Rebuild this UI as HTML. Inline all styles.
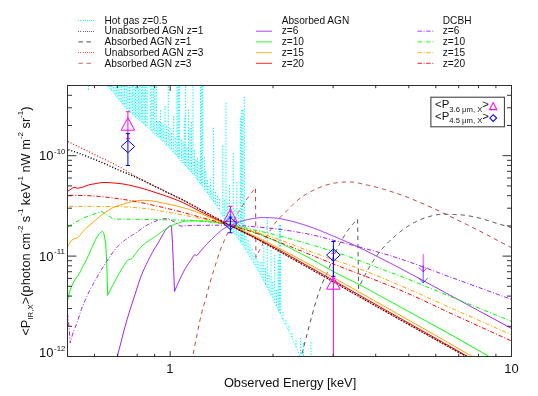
<!DOCTYPE html>
<html><head><meta charset="utf-8"><title>plot</title>
<style>
html,body{margin:0;padding:0;background:#fff;}
body{width:538px;height:396px;position:relative;overflow:hidden;font-family:"Liberation Sans",sans-serif;color:#111;}
svg text{font-family:"Liberation Sans",sans-serif;}
</style></head><body>
<svg width="538" height="396" viewBox="0 0 538 396" style="position:absolute;left:0;top:0;will-change:transform">
<defs><clipPath id="c"><rect x="67.5" y="85.5" width="444.0" height="271.0"/></clipPath></defs>
<g clip-path="url(#c)" fill="none" stroke-linejoin="round">
<path d="M100.00,76.8 L101.00,78.0 L102.00,79.1 L103.00,80.3 L104.00,81.5 L105.00,82.6 L106.00,83.8 L107.00,85.0 L108.00,86.2 L109.00,87.4 L110.00,88.6 L111.00,89.8 L112.00,91.1 L113.00,92.3 L114.00,93.6 L115.00,94.8 L116.00,96.1 L117.00,97.3 L118.00,98.6 L119.00,99.8 L120.00,101.0 L121.00,102.2 L122.00,103.4 L123.00,104.6 L124.00,105.7 L125.00,106.8 L126.00,107.9 L127.00,109.0 L128.00,110.0 L129.00,111.0 L130.00,112.0 L131.00,112.9 L132.00,113.8 L133.00,114.7 L134.00,115.6 L135.00,116.4 L136.00,117.3 L137.00,118.1 L138.00,119.0 L139.00,119.8 L140.00,120.7 L141.00,121.5 L142.00,122.4 L143.00,123.2 L144.00,124.1 L145.00,125.0 L146.00,125.9 L147.00,126.8 L148.00,127.8 L149.00,128.7 L150.00,129.6 L151.00,130.5 L152.00,131.5 L153.00,132.4 L154.00,133.4 L155.00,134.3 L156.00,135.3 L157.00,136.2 L158.00,137.2 L159.00,138.1 L160.00,139.1 L161.00,140.0 L162.00,140.9 L163.00,141.9 L164.00,142.8 L165.00,143.8 L166.00,144.7 L167.00,145.6 L168.00,146.6 L169.00,147.6 L170.00,148.6 L171.00,149.6 L172.00,150.7 L173.00,151.7 L174.00,152.8 L175.00,153.9 L176.00,155.0 L177.00,156.1 L178.00,157.2 L179.00,158.4 L180.00,159.5 L181.00,160.6 L182.00,161.7 L183.00,162.9 L184.00,164.0 L185.00,165.1 L186.00,166.2 L187.00,167.3 L188.00,168.5 L189.00,169.6 L190.00,170.7 L191.00,171.9 L192.00,173.0 L193.00,174.2 L194.00,175.4 L195.00,176.6 L196.00,177.9 L197.00,179.1 L198.00,180.4 L199.00,181.7 L200.00,183.1 L201.00,184.4 L202.00,185.8 L203.00,187.1 L204.00,188.5 L205.00,189.9 L206.00,191.3 L207.00,192.6 L208.00,194.0 L209.00,195.4 L210.00,196.7 L211.00,198.1 L212.00,199.4 L213.00,200.8 L214.00,202.2 L215.00,203.6 L216.00,205.0 L217.00,206.4 L218.00,208.0 L219.00,209.5 L220.00,211.1 L221.00,212.8 L222.00,214.6 L223.00,216.4 L224.00,218.2 L225.00,220.0 L226.00,221.8 L227.00,223.6 L228.00,225.4 L229.00,227.0 L230.00,228.4 L231.00,229.7 L232.00,230.9 L233.00,232.1 L234.00,233.3 L235.00,234.6 L236.00,235.9 L237.00,237.3 L238.00,238.7 L239.00,240.1 L240.00,241.5 L241.00,242.9 L242.00,244.4 L243.00,245.8 L244.00,247.3 L245.00,248.8 L246.00,250.4 L247.00,251.9 L248.00,253.5 L249.00,255.1 L250.00,256.7 L251.00,258.4 L252.00,260.1 L253.00,261.8 L254.00,263.5 L255.00,265.2 L256.00,267.0 L257.00,268.7 L258.00,270.4 L259.00,272.2 L260.00,273.9 L261.00,275.7 L262.00,277.5 L263.00,279.3 L264.00,281.2 L265.00,283.1 L266.00,285.1 L267.00,287.1 L268.00,289.1 L269.00,291.2 L270.00,293.3 L271.00,295.4 L272.00,297.5 L273.00,299.6 L274.00,301.6 L275.00,303.6 L276.00,305.6 L277.00,307.6 L278.00,309.6 L279.00,311.6 L280.00,313.6 L281.00,315.6 L282.00,317.6 L283.00,319.6 L284.00,321.6 L285.00,323.5 L286.00,325.4 L287.00,327.4 L288.00,329.4 L289.00,331.4 L290.00,333.4 L291.00,335.5 L292.00,337.7 L293.00,339.9 L294.00,342.2 L295.00,344.5 L296.00,346.9 L297.00,349.3 L298.00,351.7 L299.00,354.2 L300.00,356.8 L301.00,359.4 L302.00,362.0 L303.00,364.7 L304.00,367.4 L305.00,370.1 L306.00,372.9 L307.00,375.8 L308.00,378.6 L309.00,381.6 L310.00,384.5 L311.00,387.5 L312.00,390.6 L313.00,393.7" stroke="#00ffff" stroke-width="0.9" stroke-dasharray="1.2,1.7"/>
<path d="M108.60,85.6V86.9 M110.20,85.6V88.9 M111.80,85.6V90.8 M113.40,87.0V92.8 M115.00,87.0V94.8 M116.60,87.0V96.8 M118.20,86.3V98.8 M119.80,86.3V100.8 M121.40,86.3V102.7 M123.00,85.6V104.6 M124.60,85.6V106.4 M126.20,85.6V108.1 M127.80,87.0V109.8 M129.40,87.0V111.4 M131.00,87.0V112.9 M132.60,86.3V114.3 M134.05,85.6V115.6 M135.50,87.0V116.9 M136.95,85.6V118.1 M138.40,87.0V119.3 M139.85,85.6V120.5 M141.30,87.0V121.8 M142.75,86.3V123.0 M144.20,87.0V124.3 M145.65,86.3V125.6 M147.10,87.0V126.9 M150.20,86.3V129.8 M151.75,85.6V131.2 M153.30,85.6V132.7 M154.85,87.0V134.2 M156.40,86.3V135.6 M158.00,122.0V137.2 M159.30,121.0V138.4 M160.50,110.0V139.5 M161.80,123.0V140.8 M163.20,125.0V142.1 M165.00,106.0V143.8 M166.50,126.0V145.2 M168.30,86.3V146.9 M170.00,128.0V148.6 M171.50,133.0V150.1 M173.60,116.0V152.4 M175.30,138.0V154.2 M177.00,87.0V156.1 M178.20,86.3V157.5 M179.40,86.3V158.8 M181.50,140.0V161.2 M183.00,142.0V162.9 M184.30,118.0V164.3 M185.60,86.3V165.8 M187.00,148.0V167.3 M188.50,109.5V169.0 M190.00,128.0V170.7 M191.50,122.0V172.4 M193.00,86.3V174.2 M194.50,150.0V176.0 M196.00,160.0V177.9 M197.50,158.0V179.8 M199.00,162.0V181.7 M200.50,87.0V183.7 M201.60,86.3V185.2 M202.70,85.6V186.7 M204.50,157.0V189.2 M206.00,171.0V191.3 M207.50,180.0V193.3 M209.00,186.0V195.4 M210.60,179.0V197.5 M212.00,190.0V199.4 M213.60,127.7V201.6 M215.50,192.0V204.3 M217.50,196.0V207.2 M219.50,199.0V210.3 M222.70,145.6V215.8 M224.30,200.0V218.7 M226.00,102.7V221.8 M227.70,203.0V224.9 M229.50,185.0V227.7 M231.30,206.0V230.1 M233.30,153.0V232.5 M235.00,210.0V234.6 M236.80,182.0V237.0 M238.60,215.0V239.5 M240.40,118.0V242.1 M241.70,110.0V243.9 M243.00,110.0V245.8 M244.30,96.7V247.8 M246.00,236.0V250.4 M248.00,240.0V253.5 M250.00,244.0V256.7 M252.00,249.0V260.1 M254.00,253.0V263.5 M256.00,258.0V267.0 M258.00,261.0V270.4 M260.00,262.0V273.9 M262.00,262.0V277.5 M263.80,236.0V280.8 M265.50,268.0V284.1 M267.30,217.0V287.7 M269.00,275.0V291.2 M271.00,250.0V295.4 M272.80,282.0V299.2 M274.70,255.0V303.0 M276.50,290.0V306.6 M278.20,260.0V310.0 M279.30,225.0V312.2 M280.40,225.0V314.4 M283.00,312.0V319.6 M286.00,320.0V325.4 M289.00,326.0V331.4 M292.00,333.0V337.7 M296.00,340.0V346.9 M300.50,338.0V358.1 M303.50,343.0V366.0 M311.00,342.0V387.5 M88.5,85.6V90.2" stroke="#00ffff" stroke-width="1.05" stroke-dasharray="1.4,1.5"/>
<path d="M190.0,370.0 L191.0,364.9 L192.0,359.9 L193.0,354.9 L194.0,349.9 L195.0,344.7 L196.0,339.5 L197.1,334.4 L198.1,329.3 L199.1,324.4 L200.1,319.7 L201.1,315.3 L202.1,311.2 L203.1,307.5 L204.1,304.4 L205.1,301.4 L206.1,297.9 L207.1,293.8 L208.1,289.6 L209.1,285.6 L210.2,282.0 L211.2,278.6 L212.2,275.4 L213.2,272.2 L214.2,269.0 L215.2,265.8 L216.2,262.5 L217.2,259.3 L218.2,256.2 L219.2,253.2 L220.2,250.4 L221.2,247.8 L222.2,245.3 L223.3,242.9 L224.3,240.6 L225.3,238.3 L226.3,236.1 L227.3,234.0 L228.3,231.9 L229.3,229.8 L230.3,227.8 L231.3,225.9 L232.3,223.9 L233.3,221.8 L234.3,219.8 L235.3,217.8 L236.4,215.9 L237.4,214.0 L238.4,212.2 L239.4,210.5 L240.4,208.9 L241.4,207.3 L242.4,205.8 L243.4,204.3 L244.4,202.8 L245.4,201.3 L246.4,199.9 L247.4,198.4 L248.4,197.0 L249.5,195.6 L250.5,194.3 L251.5,192.9 L252.5,191.6 L253.5,190.3 L254.5,189.0 L255.5,187.7 L255.9,257.5 L256.9,255.3 L257.9,253.2 L258.9,251.2 L259.9,249.4 L260.9,247.6 L261.9,245.8 L262.9,243.8 L263.9,241.9 L264.9,239.9 L265.9,238.0 L266.9,236.1 L267.9,234.3 L268.9,232.7 L269.9,231.0 L270.9,229.4 L271.9,227.8 L272.9,226.3 L273.9,224.8 L274.9,223.4 L275.9,222.1 L276.9,220.9 L277.9,219.8 L278.9,218.7 L279.9,217.6 L280.9,216.6 L281.9,215.6 L282.9,214.6 L283.9,213.7 L284.9,212.7 L285.9,211.8 L286.9,210.8 L287.9,209.8 L288.9,208.8 L289.9,207.7 L290.9,206.7 L291.9,205.6 L292.9,204.6 L293.9,203.6 L294.9,202.6 L295.9,201.7 L296.9,200.8 L297.9,199.9 L298.9,199.2 L299.9,198.4 L300.9,197.7 L301.9,196.9 L302.9,196.2 L303.9,195.6 L304.9,194.9 L305.9,194.3 L306.9,193.7 L307.9,193.1 L308.9,192.5 L309.9,192.0 L310.9,191.5 L311.9,191.0 L312.9,190.5 L313.9,190.0 L314.9,189.6 L315.9,189.1 L316.9,188.7 L317.9,188.3 L318.9,187.8 L319.9,187.4 L320.9,187.0 L321.9,186.6 L322.9,186.2 L323.9,185.8 L324.9,185.5 L325.9,185.1 L326.9,184.8 L327.9,184.6 L328.9,184.3 L329.9,184.0 L330.9,183.8 L331.9,183.5 L332.9,183.3 L333.9,183.2 L334.9,183.0 L335.9,182.9 L336.9,182.8 L337.9,182.6 L338.9,182.5 L339.9,182.4 L340.9,182.3 L341.9,182.2 L342.9,182.1 L343.9,182.0 L344.9,182.0 L345.9,181.9 L346.9,181.9 L347.9,181.9 L348.9,181.9 L349.9,182.0 L350.9,182.0 L351.9,182.1 L352.9,182.2 L353.9,182.3 L354.9,182.4 L355.9,182.6 L356.9,182.8 L357.9,182.9 L358.9,183.1 L359.9,183.3 L360.9,183.6 L361.9,183.8 L362.9,184.0 L363.9,184.2 L364.9,184.5 L365.9,184.7 L366.9,185.0 L367.9,185.2 L368.9,185.4 L369.9,185.7 L370.9,185.9 L371.9,186.2 L372.9,186.4 L373.9,186.6 L374.9,186.9 L375.9,187.1 L376.9,187.3 L377.9,187.6 L378.9,187.9 L379.9,188.1 L380.9,188.4 L381.9,188.7 L382.9,189.0 L383.9,189.3 L384.9,189.6 L386.0,189.9 L387.0,190.2 L388.0,190.5 L389.0,190.9 L390.0,191.2 L391.0,191.5 L392.0,191.8 L393.0,192.2 L394.0,192.5 L395.0,192.8 L396.0,193.2 L397.0,193.5 L398.0,193.8 L399.0,194.2 L400.0,194.5 L401.0,194.9 L402.0,195.3 L403.0,195.6 L404.0,196.0 L405.0,196.4 L406.0,196.7 L407.0,197.1 L408.0,197.5 L409.0,197.9 L410.0,198.3 L411.0,198.7 L412.0,199.1 L413.0,199.5 L414.0,199.9 L415.0,200.3 L416.0,200.8 L417.0,201.2 L418.0,201.6 L419.0,202.0 L420.0,202.4 L421.0,202.9 L422.0,203.3 L423.0,203.7 L424.0,204.2 L425.0,204.6 L426.0,205.0 L427.0,205.5 L428.0,205.9 L429.0,206.4 L430.0,206.8 L431.0,207.3 L432.0,207.7 L433.0,208.2 L434.0,208.6 L435.0,209.1 L436.0,209.6 L437.0,210.0 L438.0,210.5 L439.0,211.0 L440.0,211.5 L441.0,212.0 L442.0,212.4 L443.0,212.9 L444.0,213.4 L445.0,213.9 L446.0,214.4 L447.0,214.8 L448.0,215.3 L449.0,215.8 L450.0,216.3 L451.0,216.8 L452.0,217.3 L453.0,217.7 L454.0,218.2 L455.0,218.7 L456.0,219.2 L457.0,219.7 L458.0,220.2 L459.0,220.7 L460.0,221.2 L461.0,221.6 L462.0,222.1 L463.0,222.6 L464.0,223.1 L465.0,223.6 L466.0,224.1 L467.0,224.6 L468.0,225.1 L469.0,225.6 L470.0,226.1 L471.0,226.6 L472.0,227.1 L473.0,227.6 L474.0,228.2 L475.0,228.7 L476.0,229.2 L477.0,229.7 L478.0,230.2 L479.0,230.7 L480.0,231.2 L481.0,231.7 L482.0,232.2 L483.0,232.8 L484.0,233.3 L485.0,233.8 L486.0,234.3 L487.0,234.8 L488.0,235.4 L489.0,235.9 L490.0,236.4 L491.0,237.0 L492.0,237.5 L493.0,238.0 L494.0,238.5 L495.0,239.1 L496.0,239.6 L497.0,240.1 L498.0,240.7 L499.0,241.2 L500.0,241.7 L501.0,242.2 L502.0,242.8 L503.0,243.3 L504.0,243.8 L505.0,244.3 L506.0,244.9 L507.0,245.4 L508.0,245.9 L509.0,246.4 L510.0,246.9 L511.0,247.4 L512.0,248.0 L513.0,248.5 L514.0,249.0 L515.0,249.5" stroke="#c84040" stroke-width="1.0" stroke-dasharray="4.3,3.9"/>
<path d="M298.0,370.0 L299.0,365.8 L300.0,361.7 L301.0,357.6 L302.0,353.6 L303.1,349.6 L304.1,345.6 L305.1,341.7 L306.1,337.8 L307.1,333.9 L308.1,330.1 L309.1,326.3 L310.1,322.5 L311.1,318.8 L312.1,315.0 L313.2,311.2 L314.2,307.5 L315.2,304.0 L316.2,300.7 L317.2,297.5 L318.2,294.5 L319.2,291.6 L320.2,288.8 L321.2,286.1 L322.2,283.5 L323.3,281.0 L324.3,278.8 L325.3,276.7 L326.3,274.6 L327.3,272.4 L328.3,270.2 L329.3,267.7 L330.3,265.0 L331.3,262.3 L332.3,259.6 L333.4,257.2 L334.4,254.8 L335.4,252.6 L336.4,250.5 L337.4,248.4 L338.4,246.4 L339.4,244.4 L340.4,242.6 L341.4,240.7 L342.4,238.9 L343.5,237.1 L344.5,235.4 L345.5,233.8 L346.5,232.3 L347.5,230.8 L348.5,229.4 L349.5,228.1 L350.5,226.8 L351.5,225.6 L352.5,224.4 L353.6,223.3 L354.6,222.2 L355.6,221.1 L356.6,220.1 L357.6,219.2 L358.6,288.5 L359.6,286.2 L360.6,284.0 L361.6,281.8 L362.6,279.7 L363.6,277.7 L364.6,275.7 L365.6,273.9 L366.6,272.0 L367.6,270.2 L368.6,268.5 L369.6,266.7 L370.6,265.1 L371.6,263.5 L372.6,261.9 L373.6,260.4 L374.6,258.9 L375.6,257.4 L376.6,256.0 L377.6,254.6 L378.7,253.2 L379.7,251.9 L380.7,250.7 L381.7,249.5 L382.7,248.3 L383.7,247.2 L384.7,246.1 L385.7,245.0 L386.7,244.0 L387.7,242.9 L388.7,241.9 L389.7,241.0 L390.7,240.0 L391.7,239.1 L392.7,238.2 L393.7,237.3 L394.7,236.4 L395.7,235.5 L396.7,234.7 L397.7,233.8 L398.7,233.0 L399.7,232.2 L400.7,231.4 L401.7,230.6 L402.7,229.9 L403.7,229.1 L404.7,228.4 L405.7,227.7 L406.7,227.0 L407.7,226.4 L408.7,225.7 L409.7,225.1 L410.7,224.5 L411.7,223.9 L412.7,223.4 L413.7,222.8 L414.7,222.3 L415.7,221.8 L416.7,221.3 L417.8,220.8 L418.8,220.4 L419.8,219.9 L420.8,219.5 L421.8,219.0 L422.8,218.6 L423.8,218.2 L424.8,217.8 L425.8,217.5 L426.8,217.1 L427.8,216.9 L428.8,216.6 L429.8,216.4 L430.8,216.1 L431.8,215.9 L432.8,215.7 L433.8,215.4 L434.8,215.2 L435.8,215.0 L436.8,214.8 L437.8,214.7 L438.8,214.5 L439.8,214.4 L440.8,214.3 L441.8,214.2 L442.8,214.2 L443.8,214.2 L444.8,214.2 L445.8,214.2 L446.8,214.2 L447.8,214.3 L448.8,214.3 L449.8,214.3 L450.8,214.3 L451.8,214.4 L452.8,214.4 L453.8,214.5 L454.8,214.5 L455.8,214.6 L456.9,214.6 L457.9,214.7 L458.9,214.7 L459.9,214.8 L460.9,214.9 L461.9,214.9 L462.9,215.0 L463.9,215.2 L464.9,215.3 L465.9,215.4 L466.9,215.6 L467.9,215.7 L468.9,215.9 L469.9,216.1 L470.9,216.2 L471.9,216.4 L472.9,216.6 L473.9,216.8 L474.9,217.0 L475.9,217.2 L476.9,217.4 L477.9,217.7 L478.9,217.9 L479.9,218.2 L480.9,218.5 L481.9,218.7 L482.9,219.0 L483.9,219.3 L484.9,219.6 L485.9,219.9 L486.9,220.2 L487.9,220.5 L488.9,220.8 L489.9,221.1 L490.9,221.5 L491.9,221.8 L492.9,222.1 L493.9,222.5 L494.9,222.8 L496.0,223.1 L497.0,223.4 L498.0,223.7 L499.0,224.0 L500.0,224.3 L501.0,224.6 L502.0,224.9 L503.0,225.2 L504.0,225.5 L505.0,225.8 L506.0,226.0 L507.0,226.3 L508.0,226.6 L509.0,226.9 L510.0,227.2 L511.0,227.5 L512.0,227.8 L513.0,228.1 L514.0,228.4 L515.0,228.7" stroke="#333" stroke-width="0.85" stroke-dasharray="4.3,3.9"/>
<path d="M113.0,375.0 L114.0,370.7 L115.0,366.4 L116.0,362.2 L117.0,358.0 L118.0,353.9 L119.0,349.8 L120.1,345.8 L121.1,341.8 L122.1,337.8 L123.1,333.9 L124.1,330.1 L125.1,326.4 L126.1,322.9 L127.1,319.4 L128.1,316.1 L129.1,312.8 L130.1,309.6 L131.1,306.4 L132.2,303.2 L133.2,300.1 L134.2,297.0 L135.2,293.9 L136.2,290.8 L137.2,287.7 L138.2,284.6 L139.2,281.5 L140.2,278.6 L141.2,275.9 L142.2,273.4 L143.2,271.0 L144.3,268.7 L145.3,266.5 L146.3,264.4 L147.3,262.3 L148.3,260.3 L149.3,258.3 L150.3,256.4 L151.3,254.5 L152.3,252.7 L153.3,250.9 L154.3,249.2 L155.3,247.5 L156.4,245.9 L157.4,244.2 L158.4,242.5 L159.4,240.7 L160.4,238.9 L161.4,237.1 L162.4,235.3 L163.4,233.6 L164.4,231.9 L165.4,230.4 L166.4,229.0 L167.4,227.8 L168.5,226.9 L169.5,226.1 L170.5,225.7 L171.5,226.3 L172.5,243.4 L173.5,266.5 L174.5,291.5 L174.5,291.5 L175.5,289.1 L176.5,286.7 L177.5,284.4 L178.5,282.2 L179.5,280.0 L180.5,277.9 L181.5,275.8 L182.5,273.8 L183.5,271.9 L184.5,270.0 L185.5,268.3 L186.5,266.6 L187.5,265.0 L188.5,263.5 L189.5,262.1 L190.5,260.7 L191.5,259.2 L192.5,257.5 L193.5,255.9 L194.5,254.8 L195.5,254.9 L196.5,255.5 L197.5,255.0 L198.5,253.8 L199.5,252.4 L200.5,251.1 L201.5,250.1 L202.5,248.9 L203.5,247.8 L204.5,246.7 L205.5,245.6 L206.5,244.5 L207.5,243.4 L208.5,242.4 L209.6,241.3 L210.6,240.3 L211.6,239.4 L212.6,238.4 L213.6,237.4 L214.6,236.4 L215.6,235.5 L216.6,234.5 L217.6,233.6 L218.6,232.6 L219.6,231.8 L220.6,230.9 L221.6,230.2 L222.6,229.4 L223.6,228.8 L224.6,228.2 L225.6,227.6 L226.6,227.1 L227.6,226.7 L228.6,226.3 L229.6,225.9 L230.6,225.5 L231.6,225.0 L232.6,224.6 L233.6,224.2 L234.6,223.8 L235.6,223.4 L236.6,223.0 L237.6,222.7 L238.6,222.3 L239.6,221.9 L240.6,221.6 L241.6,221.2 L242.6,220.9 L243.6,220.6 L244.6,220.3 L245.6,220.1 L246.6,219.8 L247.6,219.6 L248.6,219.4 L249.6,219.2 L250.6,219.0 L251.6,218.8 L252.6,218.6 L253.6,218.5 L254.6,218.4 L255.6,218.2 L256.6,218.1 L257.6,217.9 L258.6,217.8 L259.6,217.7 L260.6,217.6 L261.6,217.6 L262.6,217.6 L263.6,217.6 L264.6,217.6 L265.6,217.6 L266.6,217.7 L267.6,217.7 L268.6,217.7 L269.6,217.8 L270.6,217.8 L271.6,217.8 L272.6,217.9 L273.6,217.9 L274.6,218.0 L275.6,218.0 L276.6,218.1 L277.6,218.2 L278.7,218.4 L279.7,218.6 L280.7,218.7 L281.7,218.9 L282.7,219.1 L283.7,219.4 L284.7,219.6 L285.7,219.8 L286.7,220.1 L287.7,220.3 L288.7,220.5 L289.7,220.7 L290.7,221.0 L291.7,221.2 L292.7,221.5 L293.7,221.7 L294.7,222.0 L295.7,222.3 L296.7,222.6 L297.7,222.9 L298.7,223.2 L299.7,223.5 L300.7,223.8 L301.7,224.1 L302.7,224.4 L303.7,224.7 L304.7,225.0 L305.7,225.4 L306.7,225.7 L307.7,226.0 L308.7,226.4 L309.7,226.7 L310.7,227.0 L311.7,227.4 L312.7,227.7 L313.7,228.1 L314.7,228.5 L315.7,228.9 L316.7,229.2 L317.7,229.6 L318.7,230.0 L319.7,230.4 L320.7,230.8 L321.7,231.2 L322.7,231.7 L323.7,232.1 L324.7,232.5 L325.7,232.9 L326.7,233.3 L327.7,233.8 L328.7,234.2 L329.7,234.6 L330.7,235.0 L331.7,235.4 L332.7,235.9 L333.7,236.3 L334.7,236.7 L335.7,237.1 L336.7,237.5 L337.7,237.9 L338.7,238.4 L339.7,238.8 L340.7,239.2 L341.7,239.6 L342.7,240.0 L343.7,240.5 L344.7,240.9 L345.7,241.3 L346.7,241.8 L347.8,242.2 L348.8,242.6 L349.8,243.1 L350.8,243.5 L351.8,244.0 L352.8,244.5 L353.8,244.9 L354.8,245.4 L355.8,245.9 L356.8,246.3 L357.8,246.8 L358.8,247.3 L359.8,247.8 L360.8,248.3 L361.8,248.8 L362.8,249.2 L363.8,249.7 L364.8,250.2 L365.8,250.7 L366.8,251.2 L367.8,251.7 L368.8,252.2 L369.8,252.7 L370.8,253.2 L371.8,253.7 L372.8,254.2 L373.8,254.7 L374.8,255.3 L375.8,255.8 L376.8,256.3 L377.8,256.8 L378.8,257.3 L379.8,257.8 L380.8,258.3 L381.8,258.8 L382.8,259.3 L383.8,259.8 L384.8,260.3 L385.8,260.9 L386.8,261.4 L387.8,261.9 L388.8,262.4 L389.8,262.9 L390.8,263.4 L391.8,263.9 L392.8,264.4 L393.8,265.0 L394.8,265.5 L395.8,266.0 L396.8,266.5 L397.8,267.1 L398.8,267.6 L399.8,268.1 L400.8,268.6 L401.8,269.2 L402.8,269.7 L403.8,270.2 L404.8,270.8 L405.8,271.3 L406.8,271.8 L407.8,272.4 L408.8,272.9 L409.8,273.4 L410.8,274.0 L411.8,274.5 L412.8,275.0 L413.8,275.6 L414.8,276.1 L415.8,276.7 L416.9,277.2 L417.9,277.7 L418.9,278.3 L419.9,278.8 L420.9,279.4 L421.9,279.9 L422.9,280.4 L423.9,281.0 L424.9,281.5 L425.9,282.1 L426.9,282.6 L427.9,283.2 L428.9,283.7 L429.9,284.2 L430.9,284.8 L431.9,285.3 L432.9,285.9 L433.9,286.4 L434.9,287.0 L435.9,287.5 L436.9,288.0 L437.9,288.6 L438.9,289.1 L439.9,289.7 L440.9,290.2 L441.9,290.8 L442.9,291.3 L443.9,291.9 L444.9,292.4 L445.9,293.0 L446.9,293.5 L447.9,294.0 L448.9,294.6 L449.9,295.1 L450.9,295.7 L451.9,296.2 L452.9,296.8 L453.9,297.3 L454.9,297.8 L455.9,298.4 L456.9,298.9 L457.9,299.5 L458.9,300.0 L459.9,300.6 L460.9,301.1 L461.9,301.6 L462.9,302.2 L463.9,302.7 L464.9,303.3 L465.9,303.8 L466.9,304.4 L467.9,304.9 L468.9,305.4 L469.9,306.0 L470.9,306.5 L471.9,307.1 L472.9,307.6 L473.9,308.2 L474.9,308.7 L475.9,309.2 L476.9,309.8 L477.9,310.3 L478.9,310.9 L479.9,311.4 L480.9,312.0 L481.9,312.5 L482.9,313.0 L483.9,313.6 L484.9,314.1 L486.0,314.7 L487.0,315.2 L488.0,315.8 L489.0,316.3 L490.0,316.8 L491.0,317.4 L492.0,317.9 L493.0,318.5 L494.0,319.0 L495.0,319.5 L496.0,320.1 L497.0,320.6 L498.0,321.2 L499.0,321.7 L500.0,322.3 L501.0,322.8 L502.0,323.3 L503.0,323.9 L504.0,324.4 L505.0,325.0 L506.0,325.5 L507.0,326.1 L508.0,326.6 L509.0,327.1 L510.0,327.7 L511.0,328.2 L512.0,328.8 L513.0,329.3 L514.0,329.8 L515.0,330.4 L516.0,330.9 L517.0,331.5 L518.0,332.0 L519.0,332.6 L520.0,333.1" stroke="#a020f0" stroke-width="1.0"/>
<path d="M60.0,335.0 L61.0,329.9 L62.0,325.0 L63.0,320.2 L64.1,315.5 L65.1,311.0 L66.1,306.5 L67.1,302.2 L68.1,297.9 L69.1,293.8 L70.1,290.4 L71.2,287.5 L72.2,285.2 L73.2,283.1 L74.2,281.2 L75.2,279.5 L76.2,278.0 L77.3,276.6 L78.3,275.2 L79.3,273.5 L80.3,271.7 L81.3,269.7 L82.3,267.7 L83.3,265.7 L84.4,263.7 L85.4,261.8 L86.4,259.8 L87.4,257.7 L88.4,255.5 L89.4,253.2 L90.4,250.9 L91.5,248.6 L92.5,246.3 L93.5,244.0 L94.5,241.9 L95.5,239.8 L96.5,237.9 L97.6,236.2 L98.6,234.7 L99.6,233.5 L100.6,232.5 L101.6,231.8 L102.6,231.4 L103.6,232.5 L104.7,237.8 L105.7,243.1 L106.7,261.6 L107.7,295.3 L107.7,295.3 L108.7,293.2 L109.7,291.2 L110.7,289.2 L111.7,287.2 L112.7,285.3 L113.7,283.4 L114.7,281.5 L115.7,279.7 L116.7,277.9 L117.7,276.1 L118.7,274.3 L119.7,272.5 L120.7,270.8 L121.7,269.1 L122.7,267.5 L123.7,265.9 L124.7,264.4 L125.7,262.7 L126.7,261.2 L127.7,260.2 L128.7,259.7 L129.7,259.4 L130.7,259.1 L131.7,258.7 L132.7,257.6 L133.7,256.1 L134.7,254.7 L135.7,253.4 L136.7,252.1 L137.7,250.9 L138.7,249.6 L139.7,248.4 L140.7,247.3 L141.7,246.2 L142.7,245.2 L143.7,244.4 L144.7,243.6 L145.7,242.8 L146.7,242.1 L147.7,241.4 L148.7,240.8 L149.7,240.1 L150.7,239.5 L151.7,238.8 L152.7,238.2 L153.7,237.5 L154.7,236.8 L155.7,236.1 L156.7,235.4 L157.7,234.7 L158.7,234.0 L159.7,233.2 L160.7,232.5 L161.7,231.8 L162.7,231.1 L163.7,230.4 L164.7,229.8 L165.7,229.1 L166.7,228.5 L167.7,227.9 L168.7,227.3 L169.7,226.7 L170.7,226.2 L171.7,225.7 L172.7,225.2 L173.8,224.7 L174.8,224.2 L175.8,223.8 L176.8,223.4 L177.8,223.1 L178.8,222.8 L179.8,222.5 L180.8,222.2 L181.8,221.9 L182.8,221.6 L183.8,221.4 L184.8,221.2 L185.8,221.1 L186.8,221.0 L187.8,221.0 L188.8,220.9 L189.8,220.9 L190.8,220.9 L191.8,220.9 L192.8,220.9 L193.8,220.8 L194.8,220.8 L195.8,220.8 L196.8,220.8 L197.8,220.8 L198.8,220.8 L199.8,220.8 L200.8,220.8 L201.8,220.8 L202.8,220.9 L203.8,220.9 L204.8,221.0 L205.8,221.1 L206.8,221.2 L207.8,221.3 L208.8,221.4 L209.8,221.5 L210.8,221.6 L211.8,221.8 L212.8,221.9 L213.8,222.0 L214.8,222.2 L215.8,222.3 L216.8,222.5 L217.8,222.6 L218.8,222.8 L219.8,223.0 L220.8,223.2 L221.8,223.4 L222.8,223.6 L223.8,223.9 L224.8,224.1 L225.8,224.3 L226.8,224.6 L227.8,224.8 L228.8,225.1 L229.8,225.3 L230.8,225.6 L231.8,225.8 L232.8,226.1 L233.8,226.3 L234.8,226.6 L235.8,226.8 L236.8,227.1 L237.8,227.3 L238.8,227.6 L239.8,227.9 L240.8,228.2 L241.8,228.4 L242.8,228.7 L243.8,229.0 L244.8,229.3 L245.8,229.6 L246.8,229.9 L247.8,230.2 L248.8,230.5 L249.8,230.8 L250.8,231.1 L251.8,231.4 L252.8,231.8 L253.8,232.1 L254.8,232.4 L255.8,232.8 L256.8,233.1 L257.8,233.5 L258.8,233.9 L259.8,234.3 L260.8,234.6 L261.8,235.0 L262.8,235.4 L263.8,235.9 L264.8,236.3 L265.8,236.7 L266.8,237.1 L267.8,237.6 L268.8,238.0 L269.8,238.4 L270.8,238.9 L271.8,239.3 L272.8,239.8 L273.8,240.2 L274.8,240.7 L275.8,241.1 L276.8,241.6 L277.8,242.0 L278.8,242.5 L279.8,243.0 L280.8,243.4 L281.8,243.9 L282.8,244.4 L283.8,244.9 L284.8,245.4 L285.8,245.9 L286.8,246.3 L287.8,246.8 L288.8,247.3 L289.8,247.8 L290.8,248.4 L291.8,248.9 L292.8,249.4 L293.8,249.9 L294.8,250.4 L295.8,250.9 L296.8,251.4 L297.8,252.0 L298.8,252.5 L299.8,253.0 L300.8,253.5 L301.8,254.1 L302.8,254.6 L303.9,255.1 L304.9,255.7 L305.9,256.2 L306.9,256.7 L307.9,257.3 L308.9,257.8 L309.9,258.3 L310.9,258.9 L311.9,259.4 L312.9,259.9 L313.9,260.5 L314.9,261.1 L315.9,261.6 L316.9,262.2 L317.9,262.7 L318.9,263.3 L319.9,263.9 L320.9,264.5 L321.9,265.0 L322.9,265.6 L323.9,266.2 L324.9,266.8 L325.9,267.3 L326.9,267.9 L327.9,268.5 L328.9,269.0 L329.9,269.6 L330.9,270.2 L331.9,270.7 L332.9,271.3 L333.9,271.8 L334.9,272.3 L335.9,272.9 L336.9,273.4 L337.9,273.9 L338.9,274.4 L339.9,274.9 L340.9,275.4 L341.9,275.9 L342.9,276.4 L343.9,276.9 L344.9,277.4 L345.9,277.9 L346.9,278.4 L347.9,278.9 L348.9,279.4 L349.9,279.9 L350.9,280.4 L351.9,280.8 L352.9,281.3 L353.9,281.8 L354.9,282.3 L355.9,282.8 L356.9,283.3 L357.9,283.9 L358.9,284.4 L359.9,284.9 L360.9,285.4 L361.9,285.9 L362.9,286.5 L363.9,287.0 L364.9,287.5 L365.9,288.1 L366.9,288.6 L367.9,289.2 L368.9,289.7 L369.9,290.3 L370.9,290.8 L371.9,291.4 L372.9,291.9 L373.9,292.5 L374.9,293.0 L375.9,293.6 L376.9,294.1 L377.9,294.7 L378.9,295.3 L379.9,295.8 L380.9,296.4 L381.9,296.9 L382.9,297.5 L383.9,298.0 L384.9,298.6 L385.9,299.1 L386.9,299.7 L387.9,300.2 L388.9,300.8 L389.9,301.3 L390.9,301.8 L391.9,302.4 L392.9,302.9 L393.9,303.5 L394.9,304.0 L395.9,304.6 L396.9,305.1 L397.9,305.7 L398.9,306.2 L399.9,306.8 L400.9,307.3 L401.9,307.9 L402.9,308.4 L403.9,308.9 L404.9,309.5 L405.9,310.0 L406.9,310.6 L407.9,311.1 L408.9,311.7 L409.9,312.2 L410.9,312.8 L411.9,313.3 L412.9,313.9 L413.9,314.4 L414.9,314.9 L415.9,315.5 L416.9,316.0 L417.9,316.6 L418.9,317.1 L419.9,317.7 L420.9,318.2 L421.9,318.8 L422.9,319.3 L423.9,319.8 L424.9,320.4 L425.9,320.9 L426.9,321.5 L427.9,322.0 L428.9,322.6 L429.9,323.1 L430.9,323.7 L431.9,324.2 L432.9,324.8 L433.9,325.3 L435.0,325.9 L436.0,326.4 L437.0,327.0 L438.0,327.5 L439.0,328.1 L440.0,328.6 L441.0,329.2 L442.0,329.7 L443.0,330.3 L444.0,330.8 L445.0,331.4 L446.0,331.9 L447.0,332.5 L448.0,333.1 L449.0,333.6 L450.0,334.2 L451.0,334.7 L452.0,335.3 L453.0,335.9 L454.0,336.4 L455.0,337.0 L456.0,337.5 L457.0,338.1 L458.0,338.7 L459.0,339.2 L460.0,339.8 L461.0,340.4 L462.0,340.9 L463.0,341.5 L464.0,342.1 L465.0,342.7 L466.0,343.2 L467.0,343.8 L468.0,344.4 L469.0,345.0 L470.0,345.5 L471.0,346.1 L472.0,346.7 L473.0,347.3 L474.0,347.8 L475.0,348.4 L476.0,349.0 L477.0,349.6 L478.0,350.2 L479.0,350.7 L480.0,351.3 L481.0,351.9 L482.0,352.5 L483.0,353.1 L484.0,353.6 L485.0,354.2 L486.0,354.8 L487.0,355.4 L488.0,356.0 L489.0,356.6 L490.0,357.1 L491.0,357.7 L492.0,358.3 L493.0,358.9 L494.0,359.5 L495.0,360.1 L496.0,360.6 L497.0,361.2 L498.0,361.8 L499.0,362.4 L500.0,363.0" stroke="#00ff00" stroke-width="1.0"/>
<path d="M60.0,258.0 L61.0,256.5 L62.0,255.0 L63.0,253.6 L64.0,252.0 L65.0,250.5 L66.0,249.0 L67.0,247.5 L68.0,245.9 L69.0,244.2 L70.0,242.6 L71.0,241.2 L72.0,240.1 L73.0,239.3 L74.0,238.8 L75.0,238.5 L76.0,238.2 L77.0,237.9 L78.0,237.3 L79.0,236.3 L80.0,235.2 L81.0,234.1 L82.0,232.9 L83.0,231.6 L84.0,230.4 L85.0,229.4 L86.0,228.4 L87.0,227.4 L88.0,226.5 L89.0,225.6 L90.0,224.7 L91.0,223.9 L92.0,223.1 L93.0,222.2 L94.0,221.4 L95.0,220.5 L96.0,219.7 L97.0,218.8 L98.0,218.0 L99.0,217.2 L100.0,216.3 L101.0,215.5 L102.0,214.7 L103.0,214.0 L104.0,213.2 L105.0,212.5 L106.0,211.8 L107.0,211.1 L108.0,210.5 L109.0,209.8 L110.0,209.3 L111.0,208.7 L112.0,208.2 L113.0,207.7 L114.0,207.3 L115.0,206.9 L116.0,206.5 L117.0,206.2 L118.0,205.8 L119.0,205.5 L120.0,205.1 L121.0,204.8 L122.0,204.5 L123.0,204.2 L124.0,203.8 L125.0,203.5 L126.0,203.2 L127.0,202.9 L128.0,202.7 L129.0,202.4 L130.0,202.1 L131.0,201.9 L132.0,201.7 L133.0,201.5 L134.0,201.3 L135.0,201.1 L136.0,200.9 L137.0,200.8 L138.0,200.6 L139.0,200.5 L140.0,200.4 L141.0,200.4 L142.0,200.3 L143.0,200.3 L144.0,200.3 L145.0,200.3 L146.0,200.4 L147.0,200.4 L148.0,200.5 L149.0,200.6 L150.0,200.7 L151.0,200.8 L152.0,200.9 L153.0,201.1 L154.0,201.2 L155.0,201.4 L156.0,201.6 L157.0,201.8 L158.0,202.0 L159.0,202.2 L160.0,202.4 L161.0,202.6 L162.0,202.8 L163.0,203.0 L164.0,203.2 L165.0,203.4 L166.0,203.7 L167.0,203.9 L168.0,204.1 L169.0,204.3 L170.0,204.5 L171.0,204.7 L172.0,204.9 L173.0,205.1 L174.0,205.4 L175.0,205.6 L176.0,205.8 L177.0,206.1 L178.0,206.3 L179.0,206.6 L180.0,206.8 L181.0,207.1 L182.0,207.4 L183.0,207.7 L184.0,207.9 L185.0,208.2 L186.0,208.5 L187.0,208.8 L188.0,209.1 L189.0,209.4 L190.0,209.8 L191.0,210.1 L192.0,210.4 L193.0,210.7 L194.0,211.1 L195.0,211.4 L196.0,211.8 L197.0,212.1 L198.0,212.5 L199.0,212.8 L200.0,213.2 L201.0,213.6 L202.0,214.0 L203.0,214.5 L204.0,215.0 L205.0,215.4 L206.0,215.8 L207.0,216.2 L208.0,216.6 L209.0,217.0 L210.0,217.4 L211.0,217.8 L212.0,218.2 L213.0,218.6 L214.0,219.0 L215.0,219.4 L216.0,219.7 L217.0,220.1 L218.0,220.5 L219.0,220.9 L220.0,221.3 L221.0,221.6 L222.0,222.0 L223.0,222.4 L224.0,222.8 L225.0,223.2 L226.0,223.6 L227.0,224.0 L228.0,224.4 L229.0,224.8 L230.0,225.2 L231.0,225.6 L232.0,226.0 L233.0,226.5 L234.0,226.9 L235.0,227.3 L236.0,227.7 L237.0,228.2 L238.0,228.6 L239.0,229.0 L240.0,229.5 L241.0,229.9 L242.0,230.4 L243.0,230.8 L244.0,231.2 L245.0,231.7 L246.0,232.1 L247.0,232.6 L248.0,233.1 L249.0,233.5 L250.0,234.0 L251.0,234.4 L252.0,234.9 L253.0,235.4 L254.0,235.8 L255.0,236.3 L256.0,236.8 L257.0,237.2 L258.0,237.7 L259.0,238.2 L260.0,238.7 L261.0,239.2 L262.0,239.7 L263.0,240.2 L264.0,240.6 L265.0,241.1 L266.0,241.6 L267.0,242.1 L268.0,242.6 L269.0,243.1 L270.0,243.7 L271.0,244.2 L272.0,244.7 L273.0,245.2 L274.0,245.7 L275.0,246.2 L276.0,246.7 L277.0,247.2 L278.0,247.7 L279.0,248.2 L280.0,248.8 L281.0,249.3 L282.0,249.8 L283.0,250.3 L284.0,250.8 L285.0,251.3 L286.0,251.9 L287.0,252.4 L288.0,252.9 L289.0,253.4 L290.0,254.0 L291.0,254.5 L292.0,255.0 L293.0,255.6 L294.0,256.1 L295.0,256.6 L296.0,257.2 L297.0,257.7 L298.0,258.2 L299.0,258.8 L300.0,259.3 L301.0,259.8 L302.0,260.4 L303.0,260.9 L304.0,261.5 L305.0,262.0 L306.0,262.5 L307.0,263.1 L308.0,263.6 L309.0,264.2 L310.0,264.7 L311.0,265.2 L312.0,265.8 L313.0,266.3 L314.0,266.9 L315.0,267.4 L316.0,268.0 L317.0,268.5 L318.0,269.1 L319.0,269.6 L320.0,270.2 L321.0,270.7 L322.0,271.3 L323.0,271.8 L324.0,272.4 L325.0,272.9 L326.0,273.5 L327.0,274.0 L328.0,274.6 L329.0,275.1 L330.0,275.7 L331.0,276.2 L332.0,276.8 L333.0,277.3 L334.0,277.9 L335.0,278.5 L336.0,279.0 L337.0,279.6 L338.0,280.1 L339.0,280.7 L340.0,281.3 L341.0,281.8 L342.0,282.4 L343.0,282.9 L344.0,283.5 L345.0,284.1 L346.0,284.6 L347.0,285.2 L348.0,285.7 L349.0,286.3 L350.0,286.9 L351.0,287.4 L352.0,288.0 L353.0,288.6 L354.0,289.1 L355.0,289.7 L356.0,290.3 L357.0,290.8 L358.0,291.4 L359.0,292.0 L360.0,292.5 L361.0,293.1 L362.0,293.7 L363.0,294.2 L364.0,294.8 L365.0,295.3 L366.0,295.9 L367.0,296.5 L368.0,297.1 L369.0,297.6 L370.0,298.2 L371.0,298.8 L372.0,299.3 L373.0,299.9 L374.0,300.5 L375.0,301.0 L376.0,301.6 L377.0,302.2 L378.0,302.7 L379.0,303.3 L380.0,303.9 L381.0,304.4 L382.0,305.0 L383.0,305.6 L384.0,306.1 L385.0,306.7 L386.0,307.3 L387.0,307.8 L388.0,308.4 L389.0,309.0 L390.0,309.5 L391.0,310.1 L392.0,310.7 L393.0,311.2 L394.0,311.8 L395.0,312.4 L396.0,312.9 L397.0,313.5 L398.0,314.1 L399.0,314.6 L400.0,315.2 L401.0,315.8 L402.0,316.3 L403.0,316.9 L404.0,317.5 L405.0,318.0 L406.0,318.6 L407.0,319.2 L408.0,319.7 L409.0,320.3 L410.0,320.9 L411.0,321.4 L412.0,322.0 L413.0,322.6 L414.0,323.1 L415.0,323.7 L416.0,324.3 L417.0,324.8 L418.0,325.4 L419.0,326.0 L420.0,326.5 L421.0,327.1 L422.0,327.7 L423.0,328.2 L424.0,328.8 L425.0,329.4 L426.0,329.9 L427.0,330.5 L428.0,331.1 L429.0,331.7 L430.0,332.2 L431.0,332.8 L432.0,333.4 L433.0,333.9 L434.0,334.5 L435.0,335.1 L436.0,335.6 L437.0,336.2 L438.0,336.8 L439.0,337.4 L440.0,337.9 L441.0,338.5 L442.0,339.1 L443.0,339.6 L444.0,340.2 L445.0,340.8 L446.0,341.4 L447.0,341.9 L448.0,342.5 L449.0,343.1 L450.0,343.6 L451.0,344.2 L452.0,344.8 L453.0,345.4 L454.0,345.9 L455.0,346.5 L456.0,347.1 L457.0,347.6 L458.0,348.2 L459.0,348.8 L460.0,349.4 L461.0,349.9 L462.0,350.5 L463.0,351.1 L464.0,351.7 L465.0,352.2 L466.0,352.8 L467.0,353.4 L468.0,354.0 L469.0,354.5 L470.0,355.1 L471.0,355.7 L472.0,356.3 L473.0,356.8 L474.0,357.4 L475.0,358.0 L476.0,358.6 L477.0,359.2 L478.0,359.7 L479.0,360.3 L480.0,360.9 L481.0,361.5 L482.0,362.1 L483.0,362.6 L484.0,363.2 L485.0,363.8 L486.0,364.4 L487.0,365.0 L488.0,365.5 L489.0,366.1 L490.0,366.7" stroke="#ffa500" stroke-width="1.0"/>
<path d="M60.0,193.5 L61.0,193.3 L62.0,193.1 L63.0,192.8 L64.0,192.5 L65.0,192.2 L66.0,191.9 L67.0,191.5 L68.0,191.1 L69.0,190.5 L70.0,189.8 L71.0,189.1 L72.0,188.4 L73.0,187.8 L74.0,187.4 L75.0,187.3 L76.0,187.8 L77.0,188.2 L78.0,188.2 L79.0,188.0 L80.0,187.8 L81.0,187.6 L82.0,187.3 L83.0,187.0 L84.0,186.6 L85.0,186.3 L86.0,185.9 L87.0,185.5 L88.0,185.2 L89.0,184.9 L90.0,184.6 L91.0,184.4 L92.0,184.2 L93.0,184.1 L94.0,183.9 L95.0,183.7 L96.0,183.5 L97.0,183.3 L98.0,183.1 L99.0,183.0 L100.0,182.8 L101.0,182.7 L102.0,182.6 L103.0,182.5 L104.0,182.5 L105.0,182.5 L106.0,182.5 L107.0,182.5 L108.0,182.6 L109.0,182.6 L110.0,182.7 L111.0,182.8 L112.0,182.8 L113.0,182.9 L114.0,183.0 L115.0,183.1 L116.0,183.2 L117.0,183.3 L118.0,183.4 L119.0,183.5 L120.0,183.6 L121.0,183.7 L122.0,183.8 L123.0,184.0 L124.0,184.1 L125.0,184.3 L126.0,184.5 L127.0,184.7 L128.0,184.9 L129.0,185.1 L130.0,185.3 L131.0,185.6 L132.0,185.8 L133.0,186.0 L134.0,186.3 L135.0,186.5 L136.0,186.8 L137.0,187.0 L138.0,187.2 L139.0,187.5 L140.0,187.8 L141.0,188.0 L142.0,188.3 L143.0,188.6 L144.0,188.9 L145.0,189.2 L146.0,189.5 L147.0,189.8 L148.0,190.1 L149.0,190.4 L150.0,190.7 L151.0,191.1 L152.0,191.4 L153.0,191.7 L154.0,192.0 L155.0,192.4 L156.0,192.7 L157.0,193.0 L158.0,193.3 L159.0,193.7 L160.0,194.0 L161.0,194.3 L162.0,194.7 L163.0,195.0 L164.0,195.3 L165.0,195.7 L166.0,196.0 L167.0,196.3 L168.0,196.7 L169.0,197.0 L170.0,197.4 L171.0,197.8 L172.0,198.1 L173.0,198.5 L174.0,198.9 L175.0,199.3 L176.0,199.7 L177.0,200.1 L178.0,200.5 L179.0,200.9 L180.0,201.3 L181.0,201.7 L182.0,202.2 L183.0,202.6 L184.0,203.1 L185.0,203.6 L186.0,204.1 L187.0,204.6 L188.0,205.1 L189.0,205.6 L190.0,206.1 L191.0,206.6 L192.0,207.1 L193.0,207.6 L194.0,208.2 L195.0,208.7 L196.0,209.2 L197.0,209.7 L198.0,210.3 L199.0,210.8 L200.0,211.3 L201.0,211.8 L202.0,212.3 L203.0,212.8 L204.0,213.3 L205.0,213.8 L206.0,214.3 L207.0,214.8 L208.0,215.2 L209.0,215.7 L210.0,216.2 L211.0,216.7 L212.0,217.1 L213.0,217.6 L214.0,218.1 L215.0,218.5 L216.0,219.0 L217.0,219.5 L218.0,219.9 L219.0,220.4 L220.0,220.9 L221.0,221.3 L222.0,221.8 L223.0,222.3 L224.0,222.7 L225.0,223.2 L226.0,223.7 L227.0,224.1 L228.0,224.6 L229.0,225.1 L230.0,225.6 L231.0,226.0 L232.0,226.5 L233.0,227.0 L234.0,227.5 L235.0,227.9 L236.0,228.4 L237.0,228.9 L238.0,229.4 L239.0,229.8 L240.0,230.3 L241.0,230.8 L242.0,231.3 L243.0,231.8 L244.0,232.2 L245.0,232.7 L246.0,233.2 L247.0,233.7 L248.0,234.2 L249.0,234.7 L250.0,235.1 L251.0,235.6 L252.0,236.1 L253.0,236.6 L254.0,237.1 L255.0,237.6 L256.0,238.1 L257.0,238.6 L258.0,239.1 L259.0,239.6 L260.0,240.1 L261.0,240.6 L262.0,241.1 L263.0,241.6 L264.0,242.1 L265.0,242.6 L266.0,243.1 L267.0,243.6 L268.0,244.1 L269.0,244.6 L270.0,245.2 L271.0,245.7 L272.0,246.2 L273.0,246.7 L274.0,247.2 L275.0,247.8 L276.0,248.3 L277.0,248.8 L278.0,249.4 L279.0,249.9 L280.0,250.4 L281.0,251.0 L282.0,251.5 L283.0,252.1 L284.0,252.6 L285.0,253.2 L286.0,253.7 L287.0,254.3 L288.0,254.8 L289.0,255.4 L290.0,255.9 L291.0,256.5 L292.0,257.1 L293.0,257.6 L294.0,258.2 L295.0,258.7 L296.0,259.3 L297.0,259.9 L298.0,260.4 L299.0,261.0 L300.0,261.6 L301.0,262.1 L302.0,262.7 L303.0,263.3 L304.0,263.8 L305.0,264.4 L306.0,265.0 L307.0,265.5 L308.0,266.1 L309.0,266.6 L310.0,267.2 L311.0,267.8 L312.0,268.3 L313.0,268.9 L314.0,269.4 L315.0,270.0 L316.0,270.6 L317.0,271.1 L318.0,271.7 L319.0,272.3 L320.0,272.8 L321.0,273.4 L322.0,273.9 L323.0,274.5 L324.0,275.1 L325.0,275.6 L326.0,276.2 L327.0,276.8 L328.0,277.3 L329.0,277.9 L330.0,278.5 L331.0,279.0 L332.0,279.6 L333.0,280.2 L334.0,280.7 L335.0,281.3 L336.0,281.9 L337.0,282.4 L338.0,283.0 L339.0,283.6 L340.0,284.1 L341.0,284.7 L342.0,285.3 L343.0,285.8 L344.0,286.4 L345.0,287.0 L346.0,287.5 L347.0,288.1 L348.0,288.7 L349.0,289.2 L350.0,289.8 L351.0,290.4 L352.0,290.9 L353.0,291.5 L354.0,292.1 L355.0,292.6 L356.0,293.2 L357.0,293.8 L358.0,294.3 L359.0,294.9 L360.0,295.5 L361.0,296.0 L362.0,296.6 L363.0,297.2 L364.0,297.8 L365.0,298.3 L366.0,298.9 L367.0,299.5 L368.0,300.0 L369.0,300.6 L370.0,301.2 L371.0,301.7 L372.0,302.3 L373.0,302.9 L374.0,303.4 L375.0,304.0 L376.0,304.6 L377.0,305.1 L378.0,305.7 L379.0,306.3 L380.0,306.9 L381.0,307.4 L382.0,308.0 L383.0,308.6 L384.0,309.1 L385.0,309.7 L386.0,310.3 L387.0,310.8 L388.0,311.4 L389.0,312.0 L390.0,312.5 L391.0,313.1 L392.0,313.7 L393.0,314.2 L394.0,314.8 L395.0,315.4 L396.0,315.9 L397.0,316.5 L398.0,317.1 L399.0,317.6 L400.0,318.2 L401.0,318.8 L402.0,319.3 L403.0,319.9 L404.0,320.5 L405.0,321.0 L406.0,321.6 L407.0,322.2 L408.0,322.7 L409.0,323.3 L410.0,323.8 L411.0,324.4 L412.0,325.0 L413.0,325.5 L414.0,326.1 L415.0,326.7 L416.0,327.2 L417.0,327.8 L418.0,328.4 L419.0,328.9 L420.0,329.5 L421.0,330.0 L422.0,330.6 L423.0,331.2 L424.0,331.7 L425.0,332.3 L426.0,332.9 L427.0,333.4 L428.0,334.0 L429.0,334.6 L430.0,335.1 L431.0,335.7 L432.0,336.2 L433.0,336.8 L434.0,337.4 L435.0,337.9 L436.0,338.5 L437.0,339.1 L438.0,339.6 L439.0,340.2 L440.0,340.8 L441.0,341.3 L442.0,341.9 L443.0,342.5 L444.0,343.0 L445.0,343.6 L446.0,344.2 L447.0,344.7 L448.0,345.3 L449.0,345.9 L450.0,346.4 L451.0,347.0 L452.0,347.6 L453.0,348.2 L454.0,348.7 L455.0,349.3 L456.0,349.9 L457.0,350.4 L458.0,351.0 L459.0,351.6 L460.0,352.2 L461.0,352.8 L462.0,353.3 L463.0,353.9 L464.0,354.5 L465.0,355.1 L466.0,355.6 L467.0,356.2 L468.0,356.8 L469.0,357.4 L470.0,358.0 L471.0,358.5 L472.0,359.1 L473.0,359.7 L474.0,360.3 L475.0,360.8 L476.0,361.4 L477.0,362.0 L478.0,362.6 L479.0,363.1 L480.0,363.7 L481.0,364.3 L482.0,364.9 L483.0,365.5 L484.0,366.0 L485.0,366.6 L486.0,367.2 L487.0,367.8 L488.0,368.3 L489.0,368.9 L490.0,369.5" stroke="#ff0000" stroke-width="1.0"/>
<path d="M60.0,250.0 L61.0,258.6 L62.1,267.2 L63.1,275.8 L64.1,284.5 L65.2,293.1 L66.2,301.8 L67.2,310.5 L68.2,319.2 L69.3,330.0 L70.3,343.0 L70.3,343.0 L71.3,338.9 L72.3,335.2 L73.3,332.1 L74.3,329.5 L75.3,327.2 L76.3,324.7 L77.3,321.9 L78.4,318.8 L79.4,315.5 L80.4,312.3 L81.4,309.3 L82.4,306.7 L83.4,304.2 L84.4,301.8 L85.4,299.6 L86.4,297.4 L87.4,295.2 L88.4,293.1 L89.4,291.1 L90.4,289.1 L91.4,287.2 L92.5,285.3 L93.5,283.4 L94.5,281.6 L95.5,279.8 L96.5,278.1 L97.5,276.3 L98.5,274.6 L99.5,272.9 L100.5,271.2 L101.5,269.5 L102.5,267.8 L103.5,266.2 L104.5,264.6 L105.5,263.1 L106.6,261.6 L107.6,260.1 L108.6,258.6 L109.6,257.1 L110.6,255.6 L111.6,254.1 L112.6,252.7 L113.6,251.4 L114.6,250.1 L115.6,248.8 L116.6,247.7 L117.6,246.6 L118.6,245.6 L119.7,244.6 L120.7,243.7 L121.7,242.8 L122.7,241.9 L123.7,241.1 L124.7,240.3 L125.7,239.5 L126.7,238.8 L127.7,238.1 L128.7,237.4 L129.7,236.7 L130.7,236.1 L131.7,235.5 L132.7,234.9 L133.8,234.3 L134.8,233.7 L135.8,233.0 L136.8,232.3 L137.8,231.6 L138.8,230.9 L139.8,230.1 L140.8,229.4 L141.8,228.6 L142.8,227.9 L143.8,227.2 L144.8,226.5 L145.8,225.9 L146.8,225.3 L147.8,224.7 L148.9,224.2 L149.9,223.7 L150.9,223.2 L151.9,222.7 L152.9,222.3 L153.9,221.9 L154.9,221.5 L155.9,221.1 L156.9,220.7 L157.9,220.4 L158.9,220.1 L159.9,219.8 L160.9,219.5 L161.9,219.3 L163.0,219.0 L164.0,218.8 L165.0,218.7 L166.0,218.6 L167.0,218.6 L168.0,218.7 L169.0,218.8 L169.0,218.8 L170.0,219.4 L171.0,220.0 L172.0,220.6 L173.0,221.1 L174.0,221.7 L175.0,222.3 L176.0,223.0 L177.0,223.7 L178.0,224.5 L179.0,225.2 L180.0,225.7 L181.0,226.0 L182.0,226.0 L183.0,226.0 L184.0,225.9 L185.0,225.9 L186.0,225.8 L187.0,225.8 L188.0,225.7 L189.0,225.6 L190.0,225.6 L191.0,225.6 L192.0,225.5 L193.0,225.5 L194.0,225.4 L195.0,225.4 L196.0,225.4 L197.0,225.4 L198.0,225.3 L199.0,225.3 L200.0,225.3 L201.0,225.3 L202.0,225.3 L203.0,225.3 L204.0,225.3 L205.0,225.3 L206.0,225.3 L207.0,225.3 L208.0,225.3 L209.0,225.2 L210.0,225.2 L211.0,225.2 L212.0,225.2 L213.0,225.2 L214.0,225.2 L215.0,225.2 L216.0,225.2 L217.0,225.2 L218.0,225.2 L219.0,225.2 L220.0,225.2 L221.0,225.2 L222.0,225.2 L223.0,225.2 L224.0,225.2 L225.0,225.2 L226.0,225.2 L227.0,225.2 L228.0,225.2 L229.0,225.2 L230.0,225.2 L231.0,225.2 L232.0,225.2 L233.0,225.2 L234.0,225.3 L235.0,225.3 L236.0,225.3 L237.0,225.4 L238.0,225.4 L239.0,225.5 L240.0,225.6 L241.0,225.6 L242.0,225.7 L243.0,225.8 L244.0,225.9 L245.0,225.9 L246.0,226.0 L247.0,226.1 L248.0,226.2 L249.0,226.3 L250.0,226.4 L251.0,226.5 L252.0,226.6 L253.0,226.6 L254.0,226.7 L255.0,226.8 L256.0,226.9 L257.0,227.0 L258.0,227.0 L259.0,227.1 L260.0,227.2 L261.0,227.3 L262.0,227.4 L263.0,227.5 L264.0,227.6 L265.0,227.7 L266.0,227.8 L267.0,227.9 L268.0,228.0 L269.0,228.1 L270.0,228.2 L271.0,228.3 L272.0,228.4 L273.0,228.5 L274.0,228.7 L275.0,228.8 L276.0,228.9 L277.0,229.0 L278.0,229.1 L279.0,229.3 L280.0,229.4 L281.0,229.5 L282.0,229.7 L283.0,229.8 L284.0,230.0 L285.0,230.1 L286.0,230.2 L287.0,230.4 L288.0,230.5 L289.0,230.7 L290.0,230.8 L291.0,231.0 L292.0,231.2 L293.0,231.3 L294.0,231.5 L295.0,231.7 L296.0,231.8 L297.0,232.0 L298.0,232.2 L299.0,232.3 L300.0,232.5 L301.0,232.7 L302.0,232.9 L303.0,233.1 L304.0,233.2 L305.0,233.4 L306.0,233.6 L307.0,233.8 L308.0,234.0 L309.0,234.2 L310.0,234.4 L311.0,234.6 L312.0,234.8 L313.0,235.0 L314.0,235.3 L315.0,235.5 L316.0,235.7 L317.0,236.0 L318.0,236.2 L319.0,236.4 L320.0,236.7 L321.0,237.0 L322.0,237.2 L323.0,237.5 L324.0,237.7 L325.0,238.0 L326.0,238.3 L327.0,238.5 L328.0,238.8 L329.0,239.1 L330.0,239.3 L331.0,239.6 L332.0,239.9 L333.0,240.1 L334.0,240.4 L335.0,240.6 L336.0,240.9 L337.0,241.2 L338.0,241.4 L339.0,241.7 L340.0,241.9 L341.0,242.2 L342.0,242.4 L343.0,242.7 L344.0,243.0 L345.0,243.2 L346.0,243.5 L347.0,243.7 L348.0,244.0 L349.0,244.3 L350.0,244.5 L351.0,244.8 L352.0,245.0 L353.0,245.3 L354.0,245.6 L355.0,245.8 L356.0,246.1 L357.0,246.4 L358.0,246.6 L359.0,246.9 L360.0,247.2 L361.0,247.4 L362.0,247.7 L363.0,248.0 L364.0,248.2 L365.0,248.5 L366.0,248.8 L367.0,249.1 L368.0,249.3 L369.0,249.6 L370.0,249.9 L371.0,250.1 L372.0,250.4 L373.0,250.7 L374.0,251.0 L375.0,251.2 L376.0,251.5 L377.0,251.8 L378.0,252.1 L379.0,252.4 L380.0,252.6 L381.0,252.9 L382.0,253.2 L383.0,253.5 L384.0,253.8 L385.0,254.1 L386.0,254.4 L387.0,254.7 L388.0,255.0 L389.0,255.3 L390.0,255.6 L391.0,255.9 L392.0,256.2 L393.0,256.5 L394.0,256.8 L395.0,257.2 L396.0,257.5 L397.0,257.8 L398.0,258.1 L399.0,258.5 L400.0,258.8 L401.0,259.1 L402.0,259.5 L403.0,259.8 L404.0,260.1 L405.0,260.5 L406.0,260.8 L407.0,261.2 L408.0,261.5 L409.0,261.9 L410.0,262.2 L411.0,262.6 L412.0,262.9 L413.0,263.3 L414.0,263.6 L415.0,264.0 L416.0,264.4 L417.0,264.7 L418.0,265.1 L419.0,265.5 L420.0,265.8 L421.0,266.2 L422.0,266.6 L423.0,266.9 L424.0,267.3 L425.0,267.7 L426.0,268.0 L427.0,268.4 L428.0,268.8 L429.0,269.1 L430.0,269.5 L431.0,269.9 L432.0,270.3 L433.0,270.6 L434.0,271.0 L435.0,271.4 L436.0,271.8 L437.0,272.1 L438.0,272.5 L439.0,272.9 L440.0,273.2 L441.0,273.6 L442.0,274.0 L443.0,274.4 L444.0,274.7 L445.0,275.1 L446.0,275.5 L447.0,275.9 L448.0,276.2 L449.0,276.6 L450.0,277.0 L451.0,277.3 L452.0,277.7 L453.0,278.1 L454.0,278.4 L455.0,278.8 L456.0,279.2 L457.0,279.5 L458.0,279.9 L459.0,280.3 L460.0,280.6 L461.0,281.0 L462.0,281.3 L463.0,281.7 L464.0,282.1 L465.0,282.4 L466.0,282.8 L467.0,283.2 L468.0,283.5 L469.0,283.9 L470.0,284.3 L471.0,284.6 L472.0,285.0 L473.0,285.4 L474.0,285.7 L475.0,286.1 L476.0,286.5 L477.0,286.8 L478.0,287.2 L479.0,287.5 L480.0,287.9 L481.0,288.3 L482.0,288.6 L483.0,289.0 L484.0,289.4 L485.0,289.7 L486.0,290.1 L487.0,290.5 L488.0,290.8 L489.0,291.2 L490.0,291.6 L491.0,291.9 L492.0,292.3 L493.0,292.7 L494.0,293.0 L495.0,293.4 L496.0,293.7 L497.0,294.1 L498.0,294.5 L499.0,294.8 L500.0,295.2 L501.0,295.6 L502.0,295.9 L503.0,296.3 L504.0,296.7 L505.0,297.0 L506.0,297.4 L507.0,297.8 L508.0,298.1 L509.0,298.5 L510.0,298.9 L511.0,299.2 L512.0,299.6 L513.0,299.9 L514.0,300.3 L515.0,300.7 L516.0,301.0 L517.0,301.4 L518.0,301.8 L519.0,302.1 L520.0,302.5" stroke="#a020f0" stroke-width="1.0" stroke-dasharray="4.3,1.9,1,1.9"/>
<path d="M60.0,231.0 L61.0,230.4 L62.0,229.9 L63.0,229.3 L64.0,228.7 L65.0,228.2 L66.0,227.6 L67.0,227.1 L68.0,226.5 L69.0,226.0 L70.0,225.4 L71.0,224.8 L72.0,224.3 L73.0,223.7 L74.0,223.1 L75.0,222.6 L76.0,222.0 L77.0,221.4 L78.0,220.9 L79.0,220.4 L80.0,219.8 L81.0,219.3 L82.0,218.8 L83.0,218.4 L84.0,217.9 L85.0,217.5 L86.0,217.1 L87.0,216.7 L88.0,216.3 L89.0,215.9 L90.0,215.5 L91.0,215.1 L92.0,214.8 L93.0,214.4 L94.0,214.1 L95.0,213.7 L96.0,213.4 L97.0,213.1 L98.0,212.8 L99.0,212.5 L100.0,212.2 L101.0,212.0 L102.0,211.7 L102.0,211.7 L103.0,212.4 L104.0,213.0 L105.0,213.7 L106.0,214.3 L107.0,214.9 L108.0,215.5 L109.0,216.1 L110.0,216.8 L111.0,217.5 L112.0,218.2 L113.0,218.7 L114.0,218.9 L115.0,219.0 L116.0,219.0 L117.0,219.1 L118.0,219.1 L119.0,219.1 L120.0,219.1 L121.0,219.1 L122.0,219.1 L123.0,219.1 L124.0,219.1 L125.0,219.1 L126.0,219.2 L127.0,219.2 L128.0,219.2 L129.0,219.2 L130.0,219.2 L131.0,219.2 L132.0,219.2 L133.0,219.2 L134.0,219.3 L135.0,219.3 L136.0,219.3 L137.0,219.3 L138.0,219.3 L139.0,219.3 L140.0,219.4 L141.0,219.4 L142.0,219.4 L143.0,219.4 L144.0,219.4 L145.0,219.4 L146.0,219.5 L147.0,219.5 L148.0,219.5 L149.0,219.5 L150.0,219.5 L151.0,219.5 L152.0,219.6 L153.0,219.6 L154.0,219.6 L155.0,219.6 L156.0,219.6 L157.0,219.6 L158.0,219.7 L159.0,219.7 L160.0,219.7 L161.0,219.7 L162.0,219.7 L163.0,219.8 L164.0,219.8 L165.0,219.8 L166.0,219.8 L167.0,219.8 L168.0,219.9 L169.0,219.9 L170.0,219.9 L171.0,219.9 L172.0,219.9 L173.0,220.0 L174.0,220.0 L175.0,220.0 L176.0,220.0 L177.0,220.0 L178.0,220.1 L179.0,220.1 L180.0,220.1 L181.0,220.1 L182.0,220.2 L183.0,220.2 L184.0,220.2 L185.0,220.2 L186.0,220.3 L187.0,220.3 L188.0,220.3 L189.0,220.4 L190.0,220.4 L191.0,220.5 L192.0,220.5 L193.0,220.6 L194.0,220.7 L195.0,220.7 L196.0,220.8 L197.0,220.9 L198.0,220.9 L199.0,221.0 L200.0,221.1 L201.0,221.2 L202.0,221.2 L203.0,221.3 L204.0,221.4 L205.0,221.5 L206.0,221.6 L207.0,221.7 L208.0,221.8 L209.0,221.9 L210.0,222.0 L211.0,222.1 L212.0,222.2 L213.0,222.3 L214.0,222.4 L215.0,222.6 L216.0,222.7 L217.0,222.8 L218.0,222.9 L219.0,223.1 L220.0,223.2 L221.0,223.4 L222.0,223.5 L223.0,223.6 L224.0,223.8 L225.0,223.9 L226.0,224.1 L227.0,224.2 L228.0,224.4 L229.0,224.6 L230.0,224.7 L231.0,224.9 L232.0,225.1 L233.0,225.2 L234.0,225.4 L235.0,225.6 L236.0,225.8 L237.0,226.0 L238.0,226.2 L239.0,226.4 L240.0,226.6 L241.0,226.9 L242.0,227.1 L243.0,227.3 L244.0,227.5 L245.0,227.8 L246.0,228.0 L247.0,228.2 L248.0,228.5 L249.0,228.7 L250.0,228.9 L251.0,229.2 L252.0,229.4 L253.0,229.6 L254.0,229.9 L255.0,230.1 L256.0,230.3 L257.0,230.5 L258.0,230.8 L259.0,231.0 L260.0,231.2 L261.0,231.5 L262.0,231.7 L263.0,231.9 L264.0,232.1 L265.0,232.4 L266.0,232.6 L267.0,232.8 L268.0,233.1 L269.0,233.3 L270.0,233.5 L271.0,233.8 L272.0,234.0 L273.0,234.3 L274.0,234.5 L275.0,234.7 L276.0,235.0 L277.0,235.3 L278.0,235.5 L279.0,235.8 L280.0,236.0 L281.0,236.3 L282.0,236.6 L283.0,236.8 L284.0,237.1 L285.0,237.4 L286.0,237.6 L287.0,237.9 L288.0,238.2 L289.0,238.5 L290.0,238.8 L291.0,239.0 L292.0,239.3 L293.0,239.6 L294.0,239.9 L295.0,240.2 L296.0,240.5 L297.0,240.7 L298.0,241.0 L299.0,241.3 L300.0,241.6 L301.0,241.9 L302.0,242.2 L303.0,242.5 L304.0,242.8 L305.0,243.1 L306.0,243.3 L307.0,243.6 L308.0,243.9 L309.0,244.2 L310.0,244.5 L311.0,244.8 L312.0,245.1 L313.0,245.4 L314.0,245.7 L315.0,245.9 L316.0,246.2 L317.0,246.5 L318.0,246.8 L319.0,247.1 L320.0,247.4 L321.0,247.7 L322.0,248.0 L323.0,248.3 L324.0,248.6 L325.0,248.9 L326.0,249.2 L327.0,249.5 L328.0,249.8 L329.0,250.1 L330.0,250.4 L331.0,250.7 L332.0,251.0 L333.0,251.3 L334.0,251.6 L335.0,251.9 L336.0,252.3 L337.0,252.6 L338.0,252.9 L339.0,253.2 L340.0,253.6 L341.0,253.9 L342.0,254.3 L343.0,254.6 L344.0,255.0 L345.0,255.3 L346.0,255.6 L347.0,256.0 L348.0,256.4 L349.0,256.7 L350.0,257.1 L351.0,257.4 L352.0,257.8 L353.0,258.2 L354.0,258.5 L355.0,258.9 L356.0,259.2 L357.0,259.6 L358.0,260.0 L359.0,260.3 L360.0,260.7 L361.0,261.1 L362.0,261.5 L363.0,261.8 L364.0,262.2 L365.0,262.6 L366.0,263.0 L367.0,263.4 L368.0,263.8 L369.0,264.1 L370.0,264.5 L371.0,264.9 L372.0,265.3 L373.0,265.7 L374.0,266.1 L375.0,266.5 L376.0,266.9 L377.0,267.3 L378.0,267.7 L379.0,268.1 L380.0,268.5 L381.0,268.9 L382.0,269.2 L383.0,269.6 L384.0,270.0 L385.0,270.4 L386.0,270.8 L387.0,271.1 L388.0,271.5 L389.0,271.9 L390.0,272.2 L391.0,272.6 L392.0,273.0 L393.0,273.4 L394.0,273.7 L395.0,274.1 L396.0,274.5 L397.0,274.9 L398.0,275.2 L399.0,275.6 L400.0,276.0 L401.0,276.4 L402.0,276.8 L403.0,277.2 L404.0,277.6 L405.0,278.0 L406.0,278.4 L407.0,278.7 L408.0,279.1 L409.0,279.5 L410.0,279.9 L411.0,280.3 L412.0,280.7 L413.0,281.1 L414.0,281.5 L415.0,282.0 L416.0,282.4 L417.0,282.8 L418.0,283.2 L419.0,283.6 L420.0,284.0 L421.0,284.4 L422.0,284.8 L423.0,285.2 L424.0,285.6 L425.0,286.0 L426.0,286.4 L427.0,286.9 L428.0,287.3 L429.0,287.7 L430.0,288.1 L431.0,288.5 L432.0,288.9 L433.0,289.3 L434.0,289.8 L435.0,290.2 L436.0,290.6 L437.0,291.0 L438.0,291.4 L439.0,291.8 L440.0,292.2 L441.0,292.6 L442.0,293.1 L443.0,293.5 L444.0,293.9 L445.0,294.3 L446.0,294.7 L447.0,295.1 L448.0,295.5 L449.0,295.9 L450.0,296.4 L451.0,296.8 L452.0,297.2 L453.0,297.6 L454.0,298.0 L455.0,298.4 L456.0,298.8 L457.0,299.2 L458.0,299.6 L459.0,300.0 L460.0,300.4 L461.0,300.8 L462.0,301.2 L463.0,301.7 L464.0,302.1 L465.0,302.5 L466.0,302.9 L467.0,303.3 L468.0,303.7 L469.0,304.1 L470.0,304.5 L471.0,304.9 L472.0,305.3 L473.0,305.7 L474.0,306.1 L475.0,306.5 L476.0,306.9 L477.0,307.3 L478.0,307.7 L479.0,308.2 L480.0,308.6 L481.0,309.0 L482.0,309.4 L483.0,309.8 L484.0,310.2 L485.0,310.6 L486.0,311.0 L487.0,311.4 L488.0,311.8 L489.0,312.2 L490.0,312.6 L491.0,313.0 L492.0,313.4 L493.0,313.8 L494.0,314.3 L495.0,314.7 L496.0,315.1 L497.0,315.5 L498.0,315.9 L499.0,316.3 L500.0,316.7 L501.0,317.1 L502.0,317.5 L503.0,317.9 L504.0,318.3 L505.0,318.7 L506.0,319.1 L507.0,319.6 L508.0,320.0 L509.0,320.4 L510.0,320.8 L511.0,321.2 L512.0,321.6 L513.0,322.0 L514.0,322.4 L515.0,322.8 L516.0,323.3 L517.0,323.7 L518.0,324.1 L519.0,324.5 L520.0,324.9" stroke="#00ff00" stroke-width="1.0" stroke-dasharray="4.3,1.9,1,1.9"/>
<path d="M60.0,206.2 L61.0,206.2 L62.0,206.2 L63.0,206.2 L64.0,206.3 L65.0,206.3 L66.0,206.3 L67.0,206.3 L68.0,206.3 L69.0,206.3 L70.0,206.3 L71.0,206.3 L72.0,206.3 L73.0,206.3 L74.0,206.4 L75.0,206.4 L76.0,206.4 L77.0,206.4 L78.0,206.4 L79.0,206.4 L80.0,206.4 L81.0,206.4 L82.0,206.4 L83.0,206.4 L84.0,206.4 L85.0,206.4 L86.0,206.4 L87.0,206.4 L88.0,206.4 L89.0,206.4 L90.0,206.4 L91.0,206.4 L92.0,206.4 L93.0,206.4 L94.0,206.4 L95.0,206.4 L96.0,206.4 L97.0,206.5 L98.0,206.5 L99.0,206.5 L100.0,206.5 L101.0,206.5 L102.0,206.5 L103.0,206.5 L104.0,206.5 L105.0,206.5 L106.0,206.5 L107.0,206.5 L108.0,206.5 L109.0,206.5 L110.0,206.5 L111.0,206.5 L112.0,206.6 L113.0,206.6 L114.0,206.6 L115.0,206.6 L116.0,206.6 L117.0,206.6 L118.0,206.6 L119.0,206.7 L120.0,206.7 L121.0,206.7 L122.0,206.8 L123.0,206.8 L124.0,206.9 L125.0,206.9 L126.0,207.0 L127.0,207.0 L128.0,207.1 L129.0,207.2 L130.0,207.2 L131.0,207.3 L132.0,207.4 L133.0,207.4 L134.0,207.5 L135.0,207.6 L136.0,207.7 L137.0,207.8 L138.0,207.8 L139.0,207.9 L140.0,208.0 L141.0,208.1 L142.0,208.2 L143.0,208.3 L144.0,208.4 L145.0,208.5 L146.0,208.6 L147.0,208.8 L148.0,208.9 L149.0,209.0 L150.0,209.2 L151.0,209.3 L152.0,209.5 L153.0,209.6 L154.0,209.8 L155.0,210.0 L156.0,210.1 L157.0,210.3 L158.0,210.5 L159.0,210.7 L160.0,210.8 L161.0,211.0 L162.0,211.2 L163.0,211.4 L164.0,211.5 L165.0,211.7 L166.0,211.9 L167.0,212.1 L168.0,212.3 L169.0,212.4 L170.0,212.6 L171.0,212.8 L172.0,212.9 L173.0,213.1 L174.0,213.3 L175.0,213.5 L176.0,213.7 L177.0,213.9 L178.0,214.0 L179.0,214.2 L180.0,214.4 L181.0,214.6 L182.0,214.8 L183.0,215.0 L184.0,215.2 L185.0,215.4 L186.0,215.6 L187.0,215.8 L188.0,216.0 L189.0,216.2 L190.0,216.4 L191.0,216.6 L192.0,216.8 L193.0,217.0 L194.0,217.2 L195.0,217.4 L196.0,217.6 L197.0,217.8 L198.0,218.0 L199.0,218.3 L200.0,218.5 L201.0,218.7 L202.0,218.9 L203.0,219.1 L204.0,219.3 L205.0,219.5 L206.0,219.7 L207.0,219.9 L208.0,220.1 L209.0,220.3 L210.0,220.5 L211.0,220.7 L212.0,220.9 L213.0,221.1 L214.0,221.4 L215.0,221.6 L216.0,221.8 L217.0,222.0 L218.0,222.2 L219.0,222.4 L220.0,222.6 L221.0,222.8 L222.0,223.0 L223.0,223.3 L224.0,223.5 L225.0,223.7 L226.0,223.9 L227.0,224.2 L228.0,224.4 L229.0,224.6 L230.0,224.9 L231.0,225.1 L232.0,225.4 L233.0,225.6 L234.0,225.9 L235.0,226.1 L236.0,226.4 L237.0,226.7 L238.0,226.9 L239.0,227.2 L240.0,227.5 L241.0,227.7 L242.0,228.0 L243.0,228.3 L244.0,228.6 L245.0,228.9 L246.0,229.2 L247.0,229.4 L248.0,229.7 L249.0,230.0 L250.0,230.3 L251.0,230.6 L252.0,230.9 L253.0,231.2 L254.0,231.5 L255.0,231.8 L256.0,232.1 L257.0,232.4 L258.0,232.7 L259.0,233.0 L260.0,233.3 L261.0,233.6 L262.0,233.9 L263.0,234.2 L264.0,234.6 L265.0,234.9 L266.0,235.2 L267.0,235.5 L268.0,235.8 L269.0,236.2 L270.0,236.5 L271.0,236.8 L272.0,237.1 L273.0,237.5 L274.0,237.8 L275.0,238.2 L276.0,238.5 L277.0,238.8 L278.0,239.2 L279.0,239.5 L280.0,239.9 L281.0,240.3 L282.0,240.6 L283.0,241.0 L284.0,241.4 L285.0,241.7 L286.0,242.1 L287.0,242.5 L288.0,242.9 L289.0,243.3 L290.0,243.6 L291.0,244.0 L292.0,244.4 L293.0,244.8 L294.0,245.2 L295.0,245.6 L296.0,246.0 L297.0,246.3 L298.0,246.7 L299.0,247.1 L300.0,247.5 L301.0,247.9 L302.0,248.3 L303.0,248.7 L304.0,249.0 L305.0,249.4 L306.0,249.8 L307.0,250.2 L308.0,250.6 L309.0,250.9 L310.0,251.3 L311.0,251.7 L312.0,252.0 L313.0,252.4 L314.0,252.8 L315.0,253.1 L316.0,253.5 L317.0,253.9 L318.0,254.2 L319.0,254.6 L320.0,254.9 L321.0,255.3 L322.0,255.7 L323.0,256.0 L324.0,256.4 L325.0,256.7 L326.0,257.1 L327.0,257.4 L328.0,257.8 L329.0,258.1 L330.0,258.5 L331.0,258.8 L332.0,259.2 L333.0,259.5 L334.0,259.9 L335.0,260.2 L336.0,260.6 L337.0,260.9 L338.0,261.2 L339.0,261.6 L340.0,261.9 L341.0,262.2 L342.0,262.6 L343.0,262.9 L344.0,263.2 L345.0,263.6 L346.0,263.9 L347.0,264.2 L348.0,264.6 L349.0,264.9 L350.0,265.3 L351.0,265.6 L352.0,266.0 L353.0,266.3 L354.0,266.7 L355.0,267.1 L356.0,267.4 L357.0,267.8 L358.0,268.2 L359.0,268.5 L360.0,268.9 L361.0,269.3 L362.0,269.7 L363.0,270.1 L364.0,270.5 L365.0,270.9 L366.0,271.3 L367.0,271.7 L368.0,272.0 L369.0,272.4 L370.0,272.9 L371.0,273.3 L372.0,273.7 L373.0,274.1 L374.0,274.5 L375.0,274.9 L376.0,275.3 L377.0,275.7 L378.0,276.1 L379.0,276.5 L380.0,276.9 L381.0,277.4 L382.0,277.8 L383.0,278.2 L384.0,278.6 L385.0,279.0 L386.0,279.5 L387.0,279.9 L388.0,280.3 L389.0,280.7 L390.0,281.2 L391.0,281.6 L392.0,282.0 L393.0,282.4 L394.0,282.9 L395.0,283.3 L396.0,283.7 L397.0,284.1 L398.0,284.6 L399.0,285.0 L400.0,285.4 L401.0,285.8 L402.0,286.3 L403.0,286.7 L404.0,287.1 L405.0,287.5 L406.0,288.0 L407.0,288.4 L408.0,288.8 L409.0,289.3 L410.0,289.7 L411.0,290.1 L412.0,290.6 L413.0,291.0 L414.0,291.5 L415.0,291.9 L416.0,292.3 L417.0,292.8 L418.0,293.2 L419.0,293.7 L420.0,294.1 L421.0,294.6 L422.0,295.0 L423.0,295.5 L424.0,295.9 L425.0,296.4 L426.0,296.8 L427.0,297.2 L428.0,297.7 L429.0,298.1 L430.0,298.6 L431.0,299.0 L432.0,299.5 L433.0,299.9 L434.0,300.4 L435.0,300.8 L436.0,301.3 L437.0,301.7 L438.0,302.2 L439.0,302.6 L440.0,303.1 L441.0,303.5 L442.0,304.0 L443.0,304.4 L444.0,304.9 L445.0,305.3 L446.0,305.8 L447.0,306.2 L448.0,306.7 L449.0,307.1 L450.0,307.6 L451.0,308.0 L452.0,308.5 L453.0,308.9 L454.0,309.4 L455.0,309.8 L456.0,310.2 L457.0,310.7 L458.0,311.1 L459.0,311.6 L460.0,312.0 L461.0,312.5 L462.0,312.9 L463.0,313.3 L464.0,313.8 L465.0,314.2 L466.0,314.7 L467.0,315.1 L468.0,315.6 L469.0,316.0 L470.0,316.4 L471.0,316.9 L472.0,317.3 L473.0,317.8 L474.0,318.2 L475.0,318.6 L476.0,319.1 L477.0,319.5 L478.0,320.0 L479.0,320.4 L480.0,320.8 L481.0,321.3 L482.0,321.7 L483.0,322.2 L484.0,322.6 L485.0,323.1 L486.0,323.5 L487.0,323.9 L488.0,324.4 L489.0,324.8 L490.0,325.3 L491.0,325.7 L492.0,326.2 L493.0,326.6 L494.0,327.0 L495.0,327.5 L496.0,327.9 L497.0,328.4 L498.0,328.8 L499.0,329.2 L500.0,329.7 L501.0,330.1 L502.0,330.6 L503.0,331.0 L504.0,331.5 L505.0,331.9 L506.0,332.4 L507.0,332.8 L508.0,333.2 L509.0,333.7 L510.0,334.1 L511.0,334.6 L512.0,335.0 L513.0,335.5 L514.0,335.9 L515.0,336.4 L516.0,336.8 L517.0,337.3 L518.0,337.7 L519.0,338.2 L520.0,338.6" stroke="#ffa500" stroke-width="1.0" stroke-dasharray="4.3,1.9,1,1.9"/>
<path d="M60.0,195.0 L61.0,195.0 L62.0,195.1 L63.0,195.1 L64.0,195.1 L65.0,195.1 L66.0,195.2 L67.0,195.2 L68.0,195.2 L69.0,195.2 L70.0,195.3 L71.0,195.3 L72.0,195.3 L73.0,195.3 L74.0,195.4 L75.0,195.4 L76.0,195.4 L77.0,195.4 L78.0,195.4 L79.0,195.5 L80.0,195.5 L81.0,195.5 L82.0,195.5 L83.0,195.6 L84.0,195.6 L85.0,195.6 L86.0,195.6 L87.0,195.7 L88.0,195.7 L89.0,195.7 L90.0,195.8 L91.0,195.8 L92.0,195.9 L93.0,195.9 L94.0,196.0 L95.0,196.1 L96.0,196.1 L97.0,196.2 L98.0,196.3 L99.0,196.4 L100.0,196.5 L101.0,196.6 L102.0,196.7 L103.0,196.8 L104.0,196.9 L105.0,197.0 L106.0,197.1 L107.0,197.2 L108.0,197.4 L109.0,197.5 L110.0,197.6 L111.0,197.7 L112.0,197.9 L113.0,198.0 L114.0,198.1 L115.0,198.3 L116.0,198.4 L117.0,198.5 L118.0,198.7 L119.0,198.8 L120.0,198.9 L121.0,199.1 L122.0,199.2 L123.0,199.4 L124.0,199.5 L125.0,199.7 L126.0,199.8 L127.0,200.0 L128.0,200.2 L129.0,200.3 L130.0,200.5 L131.0,200.7 L132.0,200.9 L133.0,201.0 L134.0,201.2 L135.0,201.4 L136.0,201.6 L137.0,201.8 L138.0,202.0 L139.0,202.2 L140.0,202.4 L141.0,202.6 L142.0,202.8 L143.0,203.0 L144.0,203.2 L145.0,203.4 L146.0,203.6 L147.0,203.8 L148.0,204.1 L149.0,204.3 L150.0,204.5 L151.0,204.7 L152.0,204.9 L153.0,205.2 L154.0,205.4 L155.0,205.6 L156.0,205.9 L157.0,206.1 L158.0,206.3 L159.0,206.5 L160.0,206.8 L161.0,207.0 L162.0,207.2 L163.0,207.5 L164.0,207.7 L165.0,207.9 L166.0,208.2 L167.0,208.4 L168.0,208.6 L169.0,208.9 L170.0,209.1 L171.0,209.3 L172.0,209.6 L173.0,209.8 L174.0,210.1 L175.0,210.3 L176.0,210.6 L177.0,210.8 L178.0,211.1 L179.0,211.3 L180.0,211.6 L181.0,211.9 L182.0,212.1 L183.0,212.4 L184.0,212.7 L185.0,213.0 L186.0,213.2 L187.0,213.5 L188.0,213.8 L189.0,214.1 L190.0,214.3 L191.0,214.6 L192.0,214.9 L193.0,215.2 L194.0,215.5 L195.0,215.7 L196.0,216.0 L197.0,216.3 L198.0,216.6 L199.0,216.9 L200.0,217.1 L201.0,217.4 L202.0,217.7 L203.0,218.0 L204.0,218.2 L205.0,218.5 L206.0,218.8 L207.0,219.0 L208.0,219.3 L209.0,219.6 L210.0,219.8 L211.0,220.1 L212.0,220.3 L213.0,220.6 L214.0,220.9 L215.0,221.1 L216.0,221.4 L217.0,221.6 L218.0,221.9 L219.0,222.2 L220.0,222.4 L221.0,222.7 L222.0,223.0 L223.0,223.2 L224.0,223.5 L225.0,223.8 L226.0,224.0 L227.0,224.3 L228.0,224.6 L229.0,224.9 L230.0,225.2 L231.0,225.4 L232.0,225.7 L233.0,226.0 L234.0,226.3 L235.0,226.6 L236.0,226.9 L237.0,227.2 L238.0,227.5 L239.0,227.8 L240.0,228.1 L241.0,228.4 L242.0,228.7 L243.0,229.0 L244.0,229.3 L245.0,229.6 L246.0,229.9 L247.0,230.2 L248.0,230.5 L249.0,230.8 L250.0,231.1 L251.0,231.5 L252.0,231.8 L253.0,232.1 L254.0,232.5 L255.0,232.8 L256.0,233.1 L257.0,233.5 L258.0,233.8 L259.0,234.2 L260.0,234.6 L261.0,234.9 L262.0,235.3 L263.0,235.7 L264.0,236.1 L265.0,236.5 L266.0,236.9 L267.0,237.2 L268.0,237.6 L269.0,238.0 L270.0,238.4 L271.0,238.8 L272.0,239.2 L273.0,239.6 L274.0,240.0 L275.0,240.4 L276.0,240.8 L277.0,241.2 L278.0,241.6 L279.0,242.0 L280.0,242.4 L281.0,242.8 L282.0,243.2 L283.0,243.6 L284.0,244.0 L285.0,244.4 L286.0,244.8 L287.0,245.2 L288.0,245.6 L289.0,246.0 L290.0,246.4 L291.0,246.8 L292.0,247.2 L293.0,247.7 L294.0,248.1 L295.0,248.5 L296.0,248.9 L297.0,249.3 L298.0,249.7 L299.0,250.1 L300.0,250.5 L301.0,250.9 L302.0,251.3 L303.0,251.8 L304.0,252.2 L305.0,252.6 L306.0,253.0 L307.0,253.4 L308.0,253.8 L309.0,254.2 L310.0,254.6 L311.0,255.0 L312.0,255.4 L313.0,255.8 L314.0,256.2 L315.0,256.6 L316.0,257.0 L317.0,257.4 L318.0,257.8 L319.0,258.2 L320.0,258.6 L321.0,259.0 L322.0,259.4 L323.0,259.8 L324.0,260.2 L325.0,260.6 L326.0,261.0 L327.0,261.4 L328.0,261.8 L329.0,262.2 L330.0,262.6 L331.0,263.0 L332.0,263.4 L333.0,263.8 L334.0,264.2 L335.0,264.6 L336.0,265.0 L337.0,265.4 L338.0,265.8 L339.0,266.2 L340.0,266.6 L341.0,267.0 L342.0,267.4 L343.0,267.8 L344.0,268.1 L345.0,268.5 L346.0,268.9 L347.0,269.3 L348.0,269.7 L349.0,270.1 L350.0,270.4 L351.0,270.8 L352.0,271.2 L353.0,271.6 L354.0,272.0 L355.0,272.3 L356.0,272.7 L357.0,273.1 L358.0,273.5 L359.0,273.9 L360.0,274.2 L361.0,274.6 L362.0,275.0 L363.0,275.4 L364.0,275.8 L365.0,276.1 L366.0,276.5 L367.0,276.9 L368.0,277.3 L369.0,277.7 L370.0,278.0 L371.0,278.4 L372.0,278.8 L373.0,279.2 L374.0,279.6 L375.0,280.0 L376.0,280.3 L377.0,280.7 L378.0,281.1 L379.0,281.5 L380.0,281.9 L381.0,282.3 L382.0,282.7 L383.0,283.1 L384.0,283.5 L385.0,283.9 L386.0,284.3 L387.0,284.7 L388.0,285.1 L389.0,285.5 L390.0,285.9 L391.0,286.3 L392.0,286.7 L393.0,287.1 L394.0,287.5 L395.0,287.9 L396.0,288.3 L397.0,288.7 L398.0,289.2 L399.0,289.6 L400.0,290.0 L401.0,290.4 L402.0,290.9 L403.0,291.3 L404.0,291.7 L405.0,292.1 L406.0,292.6 L407.0,293.0 L408.0,293.5 L409.0,293.9 L410.0,294.4 L411.0,294.8 L412.0,295.3 L413.0,295.7 L414.0,296.2 L415.0,296.6 L416.0,297.1 L417.0,297.5 L418.0,298.0 L419.0,298.5 L420.0,298.9 L421.0,299.4 L422.0,299.8 L423.0,300.3 L424.0,300.8 L425.0,301.2 L426.0,301.7 L427.0,302.2 L428.0,302.7 L429.0,303.1 L430.0,303.6 L431.0,304.1 L432.0,304.5 L433.0,305.0 L434.0,305.5 L435.0,306.0 L436.0,306.4 L437.0,306.9 L438.0,307.4 L439.0,307.8 L440.0,308.3 L441.0,308.8 L442.0,309.3 L443.0,309.7 L444.0,310.2 L445.0,310.7 L446.0,311.1 L447.0,311.6 L448.0,312.1 L449.0,312.5 L450.0,313.0 L451.0,313.5 L452.0,313.9 L453.0,314.4 L454.0,314.8 L455.0,315.3 L456.0,315.8 L457.0,316.2 L458.0,316.7 L459.0,317.1 L460.0,317.6 L461.0,318.0 L462.0,318.5 L463.0,319.0 L464.0,319.4 L465.0,319.9 L466.0,320.3 L467.0,320.8 L468.0,321.2 L469.0,321.7 L470.0,322.1 L471.0,322.6 L472.0,323.0 L473.0,323.5 L474.0,324.0 L475.0,324.4 L476.0,324.9 L477.0,325.3 L478.0,325.8 L479.0,326.2 L480.0,326.7 L481.0,327.1 L482.0,327.6 L483.0,328.0 L484.0,328.5 L485.0,328.9 L486.0,329.4 L487.0,329.9 L488.0,330.3 L489.0,330.8 L490.0,331.2 L491.0,331.7 L492.0,332.1 L493.0,332.6 L494.0,333.0 L495.0,333.5 L496.0,333.9 L497.0,334.4 L498.0,334.8 L499.0,335.3 L500.0,335.8 L501.0,336.2 L502.0,336.7 L503.0,337.1 L504.0,337.6 L505.0,338.0 L506.0,338.5 L507.0,338.9 L508.0,339.4 L509.0,339.9 L510.0,340.3 L511.0,340.8 L512.0,341.2 L513.0,341.7 L514.0,342.1 L515.0,342.6 L516.0,343.1 L517.0,343.5 L518.0,344.0 L519.0,344.4 L520.0,344.9" stroke="#ff0000" stroke-width="1.0" stroke-dasharray="4.3,1.9,1,1.9"/>
<path d="M60.0,137.6 L61.0,138.1 L62.0,138.6 L63.0,139.1 L64.0,139.6 L65.0,140.1 L66.0,140.6 L67.0,141.1 L68.0,141.5 L69.0,142.0 L70.0,142.5 L71.0,143.0 L72.0,143.5 L73.0,144.0 L74.0,144.5 L75.0,145.0 L76.0,145.5 L77.0,146.0 L78.0,146.4 L79.0,146.9 L80.0,147.4 L81.0,147.9 L82.0,148.4 L83.0,148.9 L84.0,149.4 L85.0,149.9 L86.0,150.3 L87.0,150.8 L88.0,151.3 L89.0,151.8 L90.0,152.3 L91.0,152.8 L92.0,153.3 L93.0,153.8 L94.0,154.2 L95.0,154.7 L96.0,155.2 L97.0,155.7 L98.0,156.2 L99.0,156.7 L100.0,157.2 L101.0,157.7 L102.0,158.2 L103.0,158.7 L104.0,159.2 L105.0,159.6 L106.0,160.1 L107.0,160.6 L108.0,161.1 L109.0,161.6 L110.0,162.1 L111.0,162.5 L112.0,163.0 L113.0,163.5 L114.0,164.0 L115.0,164.5 L116.0,165.1 L117.0,165.6 L118.0,166.1 L119.0,166.6 L120.0,167.2 L121.0,167.7 L122.0,168.3 L123.0,168.9 L124.0,169.4 L125.0,170.0 L126.0,170.6 L127.0,171.3 L128.0,171.9 L129.0,172.5 L130.0,173.1 L131.0,173.7 L132.0,174.3 L133.0,174.9 L134.0,175.5 L135.0,176.1 L136.0,176.6 L137.0,177.2 L138.0,177.7 L139.0,178.3 L140.0,178.8 L141.0,179.3 L142.0,179.9 L143.0,180.4 L144.0,180.9 L145.0,181.4 L146.0,181.9 L147.0,182.4 L148.0,182.9 L149.0,183.4 L150.0,183.9 L151.0,184.4 L152.0,184.9 L153.0,185.4 L154.0,185.9 L155.0,186.4 L156.0,186.8 L157.0,187.3 L158.0,187.8 L159.0,188.3 L160.0,188.8 L161.0,189.3 L162.0,189.7 L163.0,190.2 L164.0,190.7 L165.0,191.2 L166.0,191.7 L167.0,192.1 L168.0,192.6 L169.0,193.1 L170.0,193.6 L171.0,194.1 L172.0,194.6 L173.0,195.0 L174.0,195.5 L175.0,196.0 L176.0,196.4 L177.0,196.9 L178.0,197.4 L179.0,197.9 L180.0,198.4 L181.0,198.9 L182.0,199.4 L183.0,199.9 L184.0,200.5 L185.0,201.0 L186.0,201.5 L187.0,202.1 L188.0,202.6 L189.0,203.2 L190.0,203.7 L191.0,204.3 L192.0,204.8 L193.0,205.4 L194.0,205.9 L195.0,206.5 L196.0,207.1 L197.0,207.6 L198.0,208.2 L199.0,208.7 L200.0,209.3 L201.0,209.8 L202.0,210.4 L203.0,210.9 L204.0,211.5 L205.0,212.0 L206.0,212.5 L207.0,213.1 L208.0,213.6 L209.0,214.1 L210.0,214.7 L211.0,215.2 L212.0,215.7 L213.0,216.3 L214.0,216.8 L215.0,217.3 L216.0,217.9 L217.0,218.4 L218.0,218.9 L219.0,219.5 L220.0,220.0 L221.0,220.5 L222.0,221.1 L223.0,221.6 L224.0,222.1 L225.0,222.6 L226.0,223.2 L227.0,223.7 L228.0,224.2 L229.0,224.7 L230.0,225.2 L231.0,225.8 L232.0,226.3 L233.0,226.8 L234.0,227.3 L235.0,227.8 L236.0,228.3 L237.0,228.8 L238.0,229.3 L239.0,229.8 L240.0,230.3 L241.0,230.8 L242.0,231.3 L243.0,231.8 L244.0,232.3 L245.0,232.8 L246.0,233.4 L247.0,233.9 L248.0,234.4 L249.0,234.9 L250.0,235.4 L251.0,235.9 L252.0,236.4 L253.0,236.9 L254.0,237.5 L255.0,238.0 L256.0,238.5 L257.0,239.1 L258.0,239.6 L259.0,240.2 L260.0,240.7 L261.0,241.2 L262.0,241.8 L263.0,242.3 L264.0,242.9 L265.0,243.5 L266.0,244.0 L267.0,244.6 L268.0,245.1 L269.0,245.7 L270.0,246.2 L271.0,246.8 L272.0,247.4 L273.0,247.9 L274.0,248.5 L275.0,249.0 L276.0,249.6 L277.0,250.2 L278.0,250.7 L279.0,251.3 L280.0,251.8 L281.0,252.4 L282.0,252.9 L283.0,253.5 L284.0,254.1 L285.0,254.6 L286.0,255.2 L287.0,255.7 L288.0,256.3 L289.0,256.9 L290.0,257.4 L291.0,258.0 L292.0,258.6 L293.0,259.1 L294.0,259.7 L295.0,260.2 L296.0,260.8 L297.0,261.4 L298.0,261.9 L299.0,262.5 L300.0,263.1 L301.0,263.6 L302.0,264.2 L303.0,264.8 L304.0,265.3 L305.0,265.9 L306.0,266.4 L307.0,267.0 L308.0,267.6 L309.0,268.1 L310.0,268.7 L311.0,269.3 L312.0,269.8 L313.0,270.4 L314.0,271.0 L315.0,271.5 L316.0,272.1 L317.0,272.7 L318.0,273.2 L319.0,273.8 L320.0,274.3 L321.0,274.9 L322.0,275.5 L323.0,276.0 L324.0,276.6 L325.0,277.2 L326.0,277.7 L327.0,278.3 L328.0,278.9 L329.0,279.5 L330.0,280.0 L331.0,280.6 L332.0,281.2 L333.0,281.7 L334.0,282.3 L335.0,282.9 L336.0,283.4 L337.0,284.0 L338.0,284.6 L339.0,285.1 L340.0,285.7 L341.0,286.3 L342.0,286.8 L343.0,287.4 L344.0,288.0 L345.0,288.5 L346.0,289.1 L347.0,289.7 L348.0,290.2 L349.0,290.8 L350.0,291.4 L351.0,292.0 L352.0,292.5 L353.0,293.1 L354.0,293.7 L355.0,294.2 L356.0,294.8 L357.0,295.4 L358.0,295.9 L359.0,296.5 L360.0,297.1 L361.0,297.6 L362.0,298.2 L363.0,298.8 L364.0,299.3 L365.0,299.9 L366.0,300.5 L367.0,301.1 L368.0,301.6 L369.0,302.2 L370.0,302.8 L371.0,303.3 L372.0,303.9 L373.0,304.5 L374.0,305.0 L375.0,305.6 L376.0,306.2 L377.0,306.7 L378.0,307.3 L379.0,307.9 L380.0,308.4 L381.0,309.0 L382.0,309.6 L383.0,310.1 L384.0,310.7 L385.0,311.3 L386.0,311.8 L387.0,312.4 L388.0,312.9 L389.0,313.5 L390.0,314.1 L391.0,314.6 L392.0,315.2 L393.0,315.8 L394.0,316.3 L395.0,316.9 L396.0,317.5 L397.0,318.0 L398.0,318.6 L399.0,319.1 L400.0,319.7 L401.0,320.3 L402.0,320.8 L403.0,321.4 L404.0,321.9 L405.0,322.5 L406.0,323.1 L407.0,323.6 L408.0,324.2 L409.0,324.8 L410.0,325.3 L411.0,325.9 L412.0,326.4 L413.0,327.0 L414.0,327.6 L415.0,328.1 L416.0,328.7 L417.0,329.2 L418.0,329.8 L419.0,330.4 L420.0,330.9 L421.0,331.5 L422.0,332.0 L423.0,332.6 L424.0,333.2 L425.0,333.7 L426.0,334.3 L427.0,334.8 L428.0,335.4 L429.0,335.9 L430.0,336.5 L431.0,337.1 L432.0,337.6 L433.0,338.2 L434.0,338.7 L435.0,339.3 L436.0,339.8 L437.0,340.4 L438.0,340.9 L439.0,341.5 L440.0,342.1 L441.0,342.6 L442.0,343.2 L443.0,343.7 L444.0,344.3 L445.0,344.8 L446.0,345.4 L447.0,345.9 L448.0,346.5 L449.0,347.0 L450.0,347.6 L451.0,348.1 L452.0,348.7 L453.0,349.2 L454.0,349.8 L455.0,350.3 L456.0,350.8 L457.0,351.4 L458.0,351.9 L459.0,352.5 L460.0,353.0 L461.0,353.5 L462.0,354.1 L463.0,354.6 L464.0,355.1 L465.0,355.7 L466.0,356.2 L467.0,356.8 L468.0,357.3 L469.0,357.9 L470.0,358.4 L471.0,358.9 L472.0,359.5 L473.0,360.0 L474.0,360.6 L475.0,361.1 L476.0,361.7 L477.0,362.2 L478.0,362.8 L479.0,363.4 L480.0,363.9 L481.0,364.5 L482.0,365.0 L483.0,365.6 L484.0,366.1 L485.0,366.7 L486.0,367.3 L487.0,367.8 L488.0,368.4 L489.0,368.9 L490.0,369.5" stroke="#ff0000" stroke-width="1.15" stroke-dasharray="1.0,1.95"/>
<path d="M60.0,147.0 L61.0,147.3 L62.0,147.7 L63.0,148.0 L64.0,148.3 L65.0,148.7 L66.0,149.0 L67.0,149.3 L68.0,149.7 L69.0,150.0 L70.0,150.3 L71.0,150.6 L72.0,150.9 L73.0,151.3 L74.0,151.6 L75.0,151.9 L76.0,152.3 L77.0,152.6 L78.0,153.0 L79.0,153.3 L80.0,153.7 L81.0,154.1 L82.0,154.4 L83.0,154.8 L84.0,155.2 L85.0,155.6 L86.0,156.0 L87.0,156.4 L88.0,156.8 L89.0,157.2 L90.0,157.6 L91.0,158.0 L92.0,158.4 L93.0,158.8 L94.0,159.2 L95.0,159.6 L96.0,160.0 L97.0,160.4 L98.0,160.9 L99.0,161.3 L100.0,161.7 L101.0,162.1 L102.0,162.5 L103.0,163.0 L104.0,163.4 L105.0,163.9 L106.0,164.3 L107.0,164.7 L108.0,165.2 L109.0,165.6 L110.0,166.1 L111.0,166.5 L112.0,167.0 L113.0,167.4 L114.0,167.9 L115.0,168.3 L116.0,168.8 L117.0,169.2 L118.0,169.7 L119.0,170.1 L120.0,170.5 L121.0,171.0 L122.0,171.4 L123.0,171.8 L124.0,172.2 L125.0,172.6 L126.0,173.0 L127.0,173.5 L128.0,173.9 L129.0,174.3 L130.0,174.7 L131.0,175.1 L132.0,175.5 L133.0,176.0 L134.0,176.4 L135.0,176.8 L136.0,177.3 L137.0,177.7 L138.0,178.2 L139.0,178.6 L140.0,179.1 L141.0,179.5 L142.0,180.0 L143.0,180.5 L144.0,181.0 L145.0,181.4 L146.0,181.9 L147.0,182.4 L148.0,182.9 L149.0,183.4 L150.0,183.9 L151.0,184.4 L152.0,184.9 L153.0,185.4 L154.0,185.9 L155.0,186.4 L156.0,186.9 L157.0,187.4 L158.0,187.9 L159.0,188.4 L160.0,188.9 L161.0,189.4 L162.0,189.9 L163.0,190.4 L164.0,190.9 L165.0,191.4 L166.0,191.9 L167.0,192.4 L168.0,192.8 L169.0,193.3 L170.0,193.8 L171.0,194.3 L172.0,194.7 L173.0,195.2 L174.0,195.7 L175.0,196.1 L176.0,196.6 L177.0,197.1 L178.0,197.5 L179.0,198.0 L180.0,198.5 L181.0,199.0 L182.0,199.5 L183.0,200.0 L184.0,200.5 L185.0,201.1 L186.0,201.6 L187.0,202.1 L188.0,202.7 L189.0,203.2 L190.0,203.8 L191.0,204.3 L192.0,204.9 L193.0,205.4 L194.0,206.0 L195.0,206.5 L196.0,207.1 L197.0,207.6 L198.0,208.2 L199.0,208.7 L200.0,209.3 L201.0,209.8 L202.0,210.4 L203.0,210.9 L204.0,211.5 L205.0,212.0 L206.0,212.5 L207.0,213.1 L208.0,213.6 L209.0,214.1 L210.0,214.7 L211.0,215.2 L212.0,215.7 L213.0,216.3 L214.0,216.8 L215.0,217.3 L216.0,217.9 L217.0,218.4 L218.0,218.9 L219.0,219.5 L220.0,220.0 L221.0,220.5 L222.0,221.0 L223.0,221.6 L224.0,222.1 L225.0,222.6 L226.0,223.2 L227.0,223.7 L228.0,224.2 L229.0,224.7 L230.0,225.2 L231.0,225.8 L232.0,226.3 L233.0,226.8 L234.0,227.3 L235.0,227.8 L236.0,228.3 L237.0,228.8 L238.0,229.3 L239.0,229.8 L240.0,230.3 L241.0,230.8 L242.0,231.3 L243.0,231.8 L244.0,232.4 L245.0,232.9 L246.0,233.4 L247.0,233.9 L248.0,234.4 L249.0,234.9 L250.0,235.4 L251.0,235.9 L252.0,236.4 L253.0,236.9 L254.0,237.5 L255.0,238.0 L256.0,238.5 L257.0,239.1 L258.0,239.6 L259.0,240.1 L260.0,240.7 L261.0,241.2 L262.0,241.8 L263.0,242.3 L264.0,242.9 L265.0,243.4 L266.0,244.0 L267.0,244.5 L268.0,245.1 L269.0,245.6 L270.0,246.2 L271.0,246.7 L272.0,247.3 L273.0,247.8 L274.0,248.4 L275.0,248.9 L276.0,249.5 L277.0,250.1 L278.0,250.6 L279.0,251.2 L280.0,251.7 L281.0,252.3 L282.0,252.8 L283.0,253.4 L284.0,254.0 L285.0,254.5 L286.0,255.1 L287.0,255.6 L288.0,256.2 L289.0,256.8 L290.0,257.3 L291.0,257.9 L292.0,258.4 L293.0,259.0 L294.0,259.6 L295.0,260.1 L296.0,260.7 L297.0,261.3 L298.0,261.8 L299.0,262.4 L300.0,263.0 L301.0,263.5 L302.0,264.1 L303.0,264.6 L304.0,265.2 L305.0,265.8 L306.0,266.3 L307.0,266.9 L308.0,267.5 L309.0,268.0 L310.0,268.6 L311.0,269.2 L312.0,269.7 L313.0,270.3 L314.0,270.9 L315.0,271.4 L316.0,272.0 L317.0,272.6 L318.0,273.1 L319.0,273.7 L320.0,274.2 L321.0,274.8 L322.0,275.4 L323.0,275.9 L324.0,276.5 L325.0,277.1 L326.0,277.6 L327.0,278.2 L328.0,278.8 L329.0,279.4 L330.0,279.9 L331.0,280.5 L332.0,281.1 L333.0,281.6 L334.0,282.2 L335.0,282.8 L336.0,283.3 L337.0,283.9 L338.0,284.5 L339.0,285.0 L340.0,285.6 L341.0,286.2 L342.0,286.7 L343.0,287.3 L344.0,287.9 L345.0,288.4 L346.0,289.0 L347.0,289.6 L348.0,290.1 L349.0,290.7 L350.0,291.3 L351.0,291.9 L352.0,292.4 L353.0,293.0 L354.0,293.6 L355.0,294.1 L356.0,294.7 L357.0,295.3 L358.0,295.8 L359.0,296.4 L360.0,297.0 L361.0,297.5 L362.0,298.1 L363.0,298.7 L364.0,299.2 L365.0,299.8 L366.0,300.4 L367.0,301.0 L368.0,301.5 L369.0,302.1 L370.0,302.7 L371.0,303.2 L372.0,303.8 L373.0,304.4 L374.0,304.9 L375.0,305.5 L376.0,306.1 L377.0,306.6 L378.0,307.2 L379.0,307.8 L380.0,308.3 L381.0,308.9 L382.0,309.5 L383.0,310.0 L384.0,310.6 L385.0,311.2 L386.0,311.7 L387.0,312.3 L388.0,312.8 L389.0,313.4 L390.0,314.0 L391.0,314.5 L392.0,315.1 L393.0,315.7 L394.0,316.2 L395.0,316.8 L396.0,317.4 L397.0,317.9 L398.0,318.5 L399.0,319.0 L400.0,319.6 L401.0,320.2 L402.0,320.7 L403.0,321.3 L404.0,321.8 L405.0,322.4 L406.0,323.0 L407.0,323.5 L408.0,324.1 L409.0,324.6 L410.0,325.2 L411.0,325.8 L412.0,326.3 L413.0,326.9 L414.0,327.4 L415.0,328.0 L416.0,328.6 L417.0,329.1 L418.0,329.7 L419.0,330.2 L420.0,330.8 L421.0,331.3 L422.0,331.9 L423.0,332.5 L424.0,333.0 L425.0,333.6 L426.0,334.1 L427.0,334.7 L428.0,335.2 L429.0,335.8 L430.0,336.4 L431.0,336.9 L432.0,337.5 L433.0,338.0 L434.0,338.6 L435.0,339.1 L436.0,339.7 L437.0,340.2 L438.0,340.8 L439.0,341.4 L440.0,341.9 L441.0,342.5 L442.0,343.0 L443.0,343.6 L444.0,344.1 L445.0,344.7 L446.0,345.2 L447.0,345.8 L448.0,346.3 L449.0,346.9 L450.0,347.4 L451.0,348.0 L452.0,348.5 L453.0,349.1 L454.0,349.6 L455.0,350.2 L456.0,350.8 L457.0,351.3 L458.0,351.8 L459.0,352.4 L460.0,352.9 L461.0,353.5 L462.0,354.0 L463.0,354.6 L464.0,355.1 L465.0,355.7 L466.0,356.2 L467.0,356.8 L468.0,357.3 L469.0,357.9 L470.0,358.4 L471.0,359.0 L472.0,359.5 L473.0,360.1 L474.0,360.6 L475.0,361.2 L476.0,361.7 L477.0,362.3 L478.0,362.8 L479.0,363.4 L480.0,363.9 L481.0,364.5 L482.0,365.1 L483.0,365.6 L484.0,366.2 L485.0,366.7 L486.0,367.3 L487.0,367.8 L488.0,368.4 L489.0,368.9 L490.0,369.5" stroke="#000" stroke-width="1.4" stroke-dasharray="1.1,1.85"/>
<path d="M121.2,130.2 L127.9,117.6 L134.6,130.2 Z M127.9,111.7V138.7 M125.8,111.7h4.2 M125.8,138.7h4.2 M223.7,221.7 L230.4,209.1 L237.1,221.7 Z M230.4,206.3V225.5 M228.3,206.3h4.2 M228.3,225.5h4.2 M326.7,289.2 L333.4,276.6 L340.1,289.2 Z M333.4,253.3V380.0 M331.3,253.3h4.2 M331.3,380.0h4.2" stroke="#ff00ff" stroke-width="1.0" fill="none"/>
<path d="M121.1,146.5 L127.9,140.3 L134.7,146.5 L127.9,152.7 Z M127.9,133.6V165.5 M125.8,133.6h4.2 M125.8,165.5h4.2 M223.6,223.5 L230.4,217.3 L237.2,223.5 L230.4,229.7 Z M230.4,217.0V232.8 M228.3,217.0h4.2 M228.3,232.8h4.2 M326.6,255.0 L333.4,248.8 L340.2,255.0 L333.4,261.2 Z M333.4,241.5V276.3 M331.3,241.5h4.2 M331.3,276.3h4.2" stroke="#0000ff" stroke-width="1.0" fill="none"/>
<path d="M423.2,254.1V271.8 M418.8,267.5L423.2,271.8L427.6,267.5" stroke="#ff00ff" stroke-width="0.8" fill="none"/>
<path d="M423.2,265.2V282.9 M418.8,278.1L423.2,282.9L427.6,278.1" stroke="#0000ff" stroke-width="0.8" fill="none" stroke-opacity="0.8"/>
</g>
<rect x="67.5" y="85.5" width="444.0" height="271.0" fill="none" stroke="#303030" stroke-width="1"/>
<path d="M94.5,356.5v-2.7 M94.5,85.5v2.7 M117.4,356.5v-2.7 M117.4,85.5v2.7 M137.2,356.5v-2.7 M137.2,85.5v2.7 M154.6,356.5v-2.7 M154.6,85.5v2.7 M170.2,356.5v-5.4 M170.2,85.5v5.4 M273.0,356.5v-2.7 M273.0,85.5v2.7 M333.1,356.5v-2.7 M333.1,85.5v2.7 M375.7,356.5v-2.7 M375.7,85.5v2.7 M408.8,356.5v-2.7 M408.8,85.5v2.7 M435.8,356.5v-2.7 M435.8,85.5v2.7 M458.7,356.5v-2.7 M458.7,85.5v2.7 M478.5,356.5v-2.7 M478.5,85.5v2.7 M495.9,356.5v-2.7 M495.9,85.5v2.7 M67.5,326.3h4.5 M511.5,326.3h-4.5 M67.5,308.6h4.5 M511.5,308.6h-4.5 M67.5,296.1h4.5 M511.5,296.1h-4.5 M67.5,286.3h4.5 M511.5,286.3h-4.5 M67.5,278.4h4.5 M511.5,278.4h-4.5 M67.5,271.7h4.5 M511.5,271.7h-4.5 M67.5,265.8h4.5 M511.5,265.8h-4.5 M67.5,260.7h4.5 M511.5,260.7h-4.5 M67.5,256.1h8.9 M511.5,256.1h-8.9 M67.5,225.9h4.5 M511.5,225.9h-4.5 M67.5,208.2h4.5 M511.5,208.2h-4.5 M67.5,195.7h4.5 M511.5,195.7h-4.5 M67.5,185.9h4.5 M511.5,185.9h-4.5 M67.5,178.0h4.5 M511.5,178.0h-4.5 M67.5,171.3h4.5 M511.5,171.3h-4.5 M67.5,165.4h4.5 M511.5,165.4h-4.5 M67.5,160.3h4.5 M511.5,160.3h-4.5 M67.5,155.7h8.9 M511.5,155.7h-8.9 M67.5,125.5h4.5 M511.5,125.5h-4.5 M67.5,107.8h4.5 M511.5,107.8h-4.5 M67.5,95.3h4.5 M511.5,95.3h-4.5" stroke="#303030" stroke-width="1" fill="none"/>
<text x="104.5" y="23.6" font-size="10.15" fill="#111" >Hot gas z=0.5</text>
<path d="M78,20.5h1 M80,20.5h1 M83,20.5h1 M85,20.5h1 M87,20.5h1 M89,20.5h1 M91,20.5h1 M93,20.5h1" stroke="#00ffff" stroke-width="1" fill="none" stroke-opacity="0.9"/>
<text x="104.5" y="34.4" font-size="10.15" fill="#111" >Unabsorbed AGN z=1</text>
<path d="M78,31.5h1 M80,31.5h1 M83,31.5h1 M85,31.5h1 M87,31.5h1 M89,31.5h1 M91,31.5h1 M93,31.5h1" stroke="#222" stroke-width="1" fill="none" stroke-opacity="0.68"/>
<text x="104.5" y="45.1" font-size="10.15" fill="#111" >Absorbed AGN z=1</text>
<path d="M78.5,41.9H94.3" stroke="#333" stroke-width="0.9" stroke-dasharray="4.4,3.6" fill="none"/>
<text x="104.5" y="55.9" font-size="10.15" fill="#111" >Unabsorbed AGN z=3</text>
<path d="M78,52.5h1 M80,52.5h1 M83,52.5h1 M85,52.5h1 M87,52.5h1 M89,52.5h1 M91,52.5h1 M93,52.5h1" stroke="#ff0000" stroke-width="1" fill="none" stroke-opacity="0.68"/>
<text x="104.5" y="66.5" font-size="10.15" fill="#111" >Absorbed AGN z=3</text>
<path d="M78.5,63.3H94.3" stroke="#d05050" stroke-width="0.9" stroke-dasharray="4.4,3.6" fill="none"/>
<text x="281.7" y="23.6" font-size="10.15" fill="#111" >Absorbed AGN</text>
<text x="442.8" y="23.6" font-size="10.15" fill="#111" >DCBH</text>
<text x="281.7" y="34.4" font-size="10.15" fill="#111" >z=6</text>
<text x="442.8" y="34.4" font-size="10.15" fill="#111" >z=6</text>
<path d="M256,31.2H272" stroke="#a020f0" stroke-width="1" fill="none" stroke-opacity="0.85"/>
<path d="M417.4,31.2H434" stroke="#a020f0" stroke-width="1" stroke-dasharray="4.7,1.5,1,1.5" fill="none" stroke-opacity="0.85"/>
<text x="281.7" y="45.1" font-size="10.15" fill="#111" >z=10</text>
<text x="442.8" y="45.1" font-size="10.15" fill="#111" >z=10</text>
<path d="M256,41.9H272" stroke="#00ff00" stroke-width="1" fill="none" stroke-opacity="0.85"/>
<path d="M417.4,41.9H434" stroke="#00ff00" stroke-width="1" stroke-dasharray="4.7,1.5,1,1.5" fill="none" stroke-opacity="0.85"/>
<text x="281.7" y="55.9" font-size="10.15" fill="#111" >z=15</text>
<text x="442.8" y="55.9" font-size="10.15" fill="#111" >z=15</text>
<path d="M256,52.7H272" stroke="#ffa500" stroke-width="1" fill="none" stroke-opacity="0.85"/>
<path d="M417.4,52.7H434" stroke="#ffa500" stroke-width="1" stroke-dasharray="4.7,1.5,1,1.5" fill="none" stroke-opacity="0.85"/>
<text x="281.7" y="66.5" font-size="10.15" fill="#111" >z=20</text>
<text x="442.8" y="66.5" font-size="10.15" fill="#111" >z=20</text>
<path d="M256,63.3H272" stroke="#ff0000" stroke-width="1" fill="none" stroke-opacity="0.85"/>
<path d="M417.4,63.3H434" stroke="#ff0000" stroke-width="1" stroke-dasharray="4.7,1.5,1,1.5" fill="none" stroke-opacity="0.85"/>
<rect x="430.9" y="97.2" width="73.5" height="29.6" fill="#fff" stroke="#333" stroke-width="1"/>
<text x="435.0" y="108.4" font-size="11.4" fill="#111">&lt;P<tspan font-size="7.7" dy="3.3">3.6 μm, X</tspan><tspan dy="-3.3">&gt;</tspan></text>
<text x="435.0" y="120.1" font-size="11.4" fill="#111">&lt;P<tspan font-size="7.7" dy="3.3">4.5 μm, X</tspan><tspan dy="-3.3">&gt;</tspan></text>
<path d="M489.6,109.6L493.2,102.6L496.8,109.6Z" stroke="#ff00ff" stroke-width="1.1" fill="none"/>
<path d="M489.8,118.1L493.2,114.7L496.6,118.1L493.2,121.5Z" stroke="#0000ff" stroke-width="1.1" fill="none"/>
<text x="166.3" y="373.0" font-size="13.0" fill="#111" >1</text>
<text x="504.3" y="373.0" font-size="13.0" fill="#111" >10</text>
<text x="39.1" y="160.3" font-size="13.0" fill="#111">10<tspan font-size="7.8" dy="-6.3" dx="0.5">-10</tspan></text>
<text x="39.1" y="260.7" font-size="13.0" fill="#111">10<tspan font-size="7.8" dy="-6.3" dx="0.5">-11</tspan></text>
<text x="39.1" y="357.1" font-size="13.0" fill="#111">10<tspan font-size="7.8" dy="-6.3" dx="0.5">-12</tspan></text>
<text x="223.9" y="387.0" font-size="12.8" fill="#111" >Observed Energy [keV]</text>
<text transform="translate(29.6,335.6) rotate(-90)" font-size="12.8" fill="#111">&lt;P<tspan font-size="7.9" dy="3">IR,X</tspan><tspan dy="-3">&gt;(photon cm</tspan><tspan font-size="7.9" dy="-6.2">-2</tspan><tspan dy="6.2"> s</tspan><tspan font-size="7.9" dy="-6.2">-1</tspan><tspan dy="6.2"> keV</tspan><tspan font-size="7.9" dy="-6.2">-1</tspan><tspan dy="6.2"> nW m</tspan><tspan font-size="7.9" dy="-6.2">-2</tspan><tspan dy="6.2"> sr</tspan><tspan font-size="7.9" dy="-6.2">-1</tspan><tspan dy="6.2">)</tspan></text>
</svg>
</body></html>
